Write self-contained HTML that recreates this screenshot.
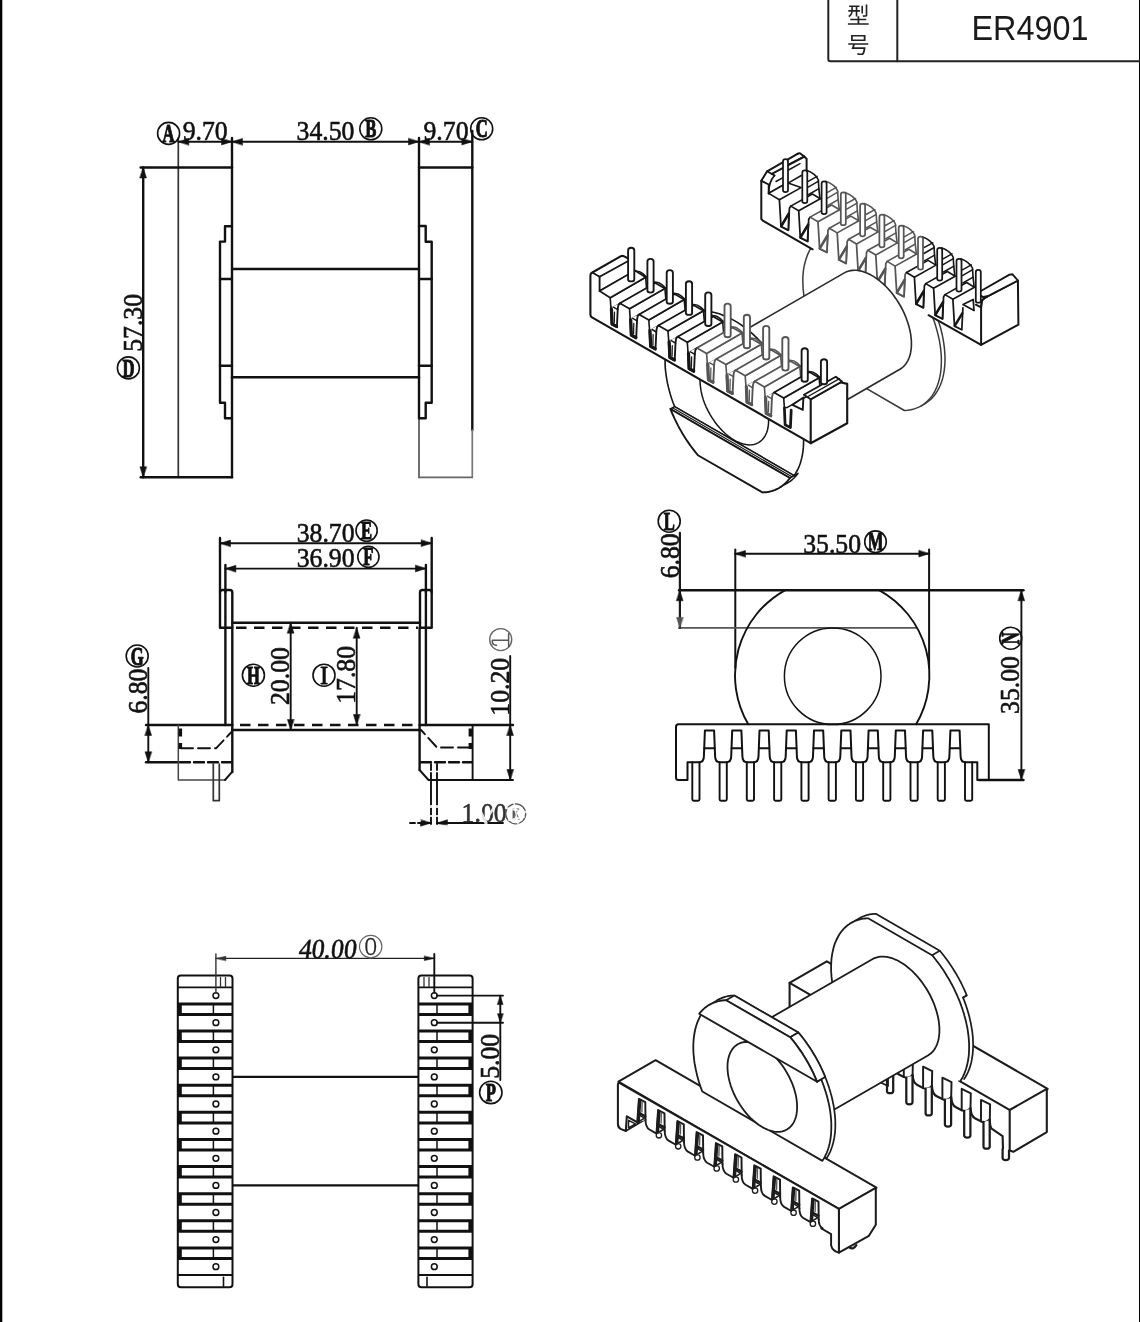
<!DOCTYPE html>
<html><head><meta charset="utf-8"><title>ER4901</title>
<style>
html,body{margin:0;padding:0;background:#fff;}
body{width:1140px;height:1322px;overflow:hidden;font-family:"Liberation Serif",serif;}
svg{display:block;filter:grayscale(1);}
</style></head><body>
<svg width="1140" height="1322" viewBox="0 0 1140 1322" stroke-linecap="round" stroke-linejoin="round">
<rect width="1140" height="1322" fill="#fff"/>
<g>
<rect x="0" y="0" width="2.3" height="1322" fill="#000"/>
<rect x="1139" y="0" width="1" height="1322" fill="#000"/>
<path d="M828.3,0 V59 Q828.3,61.3 830.6,61.3 H1140" stroke="#222" stroke-width="2" fill="none" />
<line x1="897.3" y1="0.0" x2="897.3" y2="61.3" stroke="#222" stroke-width="2" />
<path transform="translate(846.8,23.8) scale(0.0230,-0.0230)" d="M635 783V448H704V783ZM822 834V387C822 374 818 370 802 369C787 368 737 368 680 370C691 350 701 321 705 301C776 301 825 302 855 314C885 325 893 344 893 386V834ZM388 733V595H264V601V733ZM67 595V528H189C178 461 145 393 59 340C73 330 98 302 108 288C210 351 248 441 259 528H388V313H459V528H573V595H459V733H552V799H100V733H195V602V595ZM467 332V221H151V152H467V25H47V-45H952V25H544V152H848V221H544V332Z" fill="#222"/>
<path transform="translate(846.8,53.3) scale(0.0230,-0.0230)" d="M260 732H736V596H260ZM185 799V530H815V799ZM63 440V371H269C249 309 224 240 203 191H727C708 75 688 19 663 -1C651 -9 639 -10 615 -10C587 -10 514 -9 444 -2C458 -23 468 -52 470 -74C539 -78 605 -79 639 -77C678 -76 702 -70 726 -50C763 -18 788 57 812 225C814 236 816 259 816 259H315L352 371H933V440Z" fill="#222"/>
<text transform="translate(971.5,40.4) rotate(0) scale(1,1)" font-family="Liberation Sans, sans-serif" font-size="35" font-weight="normal" text-anchor="start" fill="#1a1a1a" textLength="117" lengthAdjust="spacingAndGlyphs" >ER4901</text>
<line x1="178.3" y1="138.0" x2="178.3" y2="477.3" stroke="#333" stroke-width="1.7" />
<line x1="232.0" y1="138.0" x2="232.0" y2="477.3" stroke="#111" stroke-width="2.4" />
<line x1="140.7" y1="167.5" x2="232.0" y2="167.5" stroke="#111" stroke-width="2.4" />
<line x1="140.7" y1="477.3" x2="232.0" y2="477.3" stroke="#111" stroke-width="2.4" />
<line x1="419.0" y1="138.0" x2="419.0" y2="418.0" stroke="#111" stroke-width="2.4" />
<line x1="419.0" y1="418.0" x2="419.0" y2="477.3" stroke="#555" stroke-width="1.7" />
<line x1="472.3" y1="131.0" x2="472.3" y2="430.0" stroke="#111" stroke-width="2.4" />
<line x1="472.3" y1="430.0" x2="472.3" y2="477.3" stroke="#777" stroke-width="1.7" />
<line x1="419.0" y1="167.5" x2="472.3" y2="167.5" stroke="#111" stroke-width="2.4" />
<line x1="419.0" y1="477.3" x2="472.3" y2="477.3" stroke="#666" stroke-width="1.7" />
<path d="M232,226.3 H225 V241.6 H220 V402.7 H225 V418.3 H232" stroke="#111" stroke-width="2.4" fill="none" />
<line x1="220.0" y1="279.0" x2="232.0" y2="279.0" stroke="#111" stroke-width="2.4" />
<line x1="220.0" y1="365.7" x2="232.0" y2="365.7" stroke="#111" stroke-width="2.4" />
<path d="M419,226 H425.7 V241.7 H431.7 V402.7 H425.7 V418.3 H419" stroke="#111" stroke-width="2.4" fill="none" />
<line x1="419.0" y1="279.0" x2="431.7" y2="279.0" stroke="#111" stroke-width="2.4" />
<line x1="419.0" y1="365.7" x2="431.7" y2="365.7" stroke="#111" stroke-width="2.4" />
<line x1="232.0" y1="269.0" x2="419.0" y2="269.0" stroke="#111" stroke-width="2.4" />
<line x1="232.0" y1="377.3" x2="419.0" y2="377.3" stroke="#111" stroke-width="2.4" />
<line x1="178.3" y1="141.7" x2="472.3" y2="141.7" stroke="#111" stroke-width="1.9" />
<path d="M178.3,141.7 L188.8,138.4 L188.8,145.0 Z" fill="#111" stroke="#111" stroke-width="0.5"/>
<path d="M232.0,141.7 L221.5,145.0 L221.5,138.4 Z" fill="#111" stroke="#111" stroke-width="0.5"/>
<path d="M232.0,141.7 L242.5,138.4 L242.5,145.0 Z" fill="#111" stroke="#111" stroke-width="0.5"/>
<path d="M419.0,141.7 L408.5,145.0 L408.5,138.4 Z" fill="#111" stroke="#111" stroke-width="0.5"/>
<path d="M419.0,141.7 L429.5,138.4 L429.5,145.0 Z" fill="#111" stroke="#111" stroke-width="0.5"/>
<path d="M472.3,141.7 L461.8,145.0 L461.8,138.4 Z" fill="#111" stroke="#111" stroke-width="0.5"/>
<line x1="143.2" y1="167.5" x2="143.2" y2="477.3" stroke="#111" stroke-width="2.4" />
<path d="M143.2,167.5 L146.5,178.0 L139.9,178.0 Z" fill="#111" stroke="#111" stroke-width="0.5"/>
<path d="M143.2,477.3 L139.9,466.8 L146.5,466.8 Z" fill="#111" stroke="#111" stroke-width="0.5"/>
<text transform="translate(182.7,140.4) rotate(0) scale(0.935,1)" font-family="Liberation Serif, serif" font-size="27.5" font-weight="normal" text-anchor="start" fill="#111" stroke="#111" stroke-width="0.6" >9.70</text>
<text transform="translate(296.6,140.4) rotate(0) scale(0.935,1)" font-family="Liberation Serif, serif" font-size="27.5" font-weight="normal" text-anchor="start" fill="#111" stroke="#111" stroke-width="0.6" >34.50</text>
<text transform="translate(423.5,140.4) rotate(0) scale(0.935,1)" font-family="Liberation Serif, serif" font-size="27.5" font-weight="normal" text-anchor="start" fill="#111" stroke="#111" stroke-width="0.6" >9.70</text>
<circle cx="168.6" cy="133.4" r="11.0" fill="none" stroke="#111" stroke-width="1.6"/>
<text transform="translate(168.6,133.4) rotate(0) scale(0.64,1)" y="8.6" font-family="Liberation Serif, serif" font-weight="bold" font-size="26" text-anchor="middle" fill="#111" stroke="#111" stroke-width="1.1">A</text>
<circle cx="370.8" cy="128.8" r="11.0" fill="none" stroke="#111" stroke-width="1.6"/>
<text transform="translate(370.8,128.8) rotate(0) scale(0.64,1)" y="8.6" font-family="Liberation Serif, serif" font-weight="bold" font-size="26" text-anchor="middle" fill="#111" stroke="#111" stroke-width="1.1">B</text>
<circle cx="481.7" cy="128.8" r="11.0" fill="none" stroke="#111" stroke-width="1.6"/>
<text transform="translate(481.7,128.8) rotate(0) scale(0.64,1)" y="8.6" font-family="Liberation Serif, serif" font-weight="bold" font-size="26" text-anchor="middle" fill="#111" stroke="#111" stroke-width="1.1">C</text>
<text transform="translate(142.2,351.8) rotate(-90) scale(0.935,1)" font-family="Liberation Serif, serif" font-size="27.5" font-weight="normal" text-anchor="start" fill="#111" stroke="#111" stroke-width="0.6" >57.30</text>
<circle cx="128.4" cy="367.9" r="11.0" fill="none" stroke="#111" stroke-width="1.6"/>
<text transform="translate(128.4,367.9) rotate(0) scale(0.64,1)" y="8.6" font-family="Liberation Serif, serif" font-weight="bold" font-size="26" text-anchor="middle" fill="#111" stroke="#111" stroke-width="1.1">D</text>
<line x1="220.0" y1="543.3" x2="431.7" y2="543.3" stroke="#111" stroke-width="1.9" />
<path d="M220.0,543.3 L230.5,540.0 L230.5,546.6 Z" fill="#111" stroke="#111" stroke-width="0.5"/>
<path d="M431.7,543.3 L421.2,546.6 L421.2,540.0 Z" fill="#111" stroke="#111" stroke-width="0.5"/>
<line x1="225.4" y1="568.6" x2="425.9" y2="568.6" stroke="#111" stroke-width="1.9" />
<path d="M225.4,568.6 L235.9,565.3 L235.9,571.9 Z" fill="#111" stroke="#111" stroke-width="0.5"/>
<path d="M425.9,568.6 L415.4,571.9 L415.4,565.3 Z" fill="#111" stroke="#111" stroke-width="0.5"/>
<line x1="220.0" y1="538.0" x2="220.0" y2="592.0" stroke="#111" stroke-width="2.4" />
<line x1="431.7" y1="538.0" x2="431.7" y2="592.0" stroke="#111" stroke-width="2.4" />
<line x1="225.4" y1="565.0" x2="225.4" y2="592.0" stroke="#111" stroke-width="2.4" />
<line x1="425.9" y1="565.0" x2="425.9" y2="592.0" stroke="#111" stroke-width="2.4" />
<text transform="translate(296.7,542.4) rotate(0) scale(0.935,1)" font-family="Liberation Serif, serif" font-size="27.5" font-weight="normal" text-anchor="start" fill="#111" stroke="#111" stroke-width="0.6" >38.70</text>
<circle cx="366.6" cy="530.6" r="10.6" fill="none" stroke="#111" stroke-width="1.6"/>
<text transform="translate(366.6,530.6) rotate(0) scale(0.64,1)" y="8.6" font-family="Liberation Serif, serif" font-weight="bold" font-size="26" text-anchor="middle" fill="#111" stroke="#111" stroke-width="1.1">E</text>
<text transform="translate(296.7,567.4) rotate(0) scale(0.935,1)" font-family="Liberation Serif, serif" font-size="27.5" font-weight="normal" text-anchor="start" fill="#111" stroke="#111" stroke-width="0.6" >36.90</text>
<circle cx="368.4" cy="556.8" r="10.6" fill="none" stroke="#111" stroke-width="1.6"/>
<text transform="translate(368.4,556.8) rotate(0) scale(0.64,1)" y="8.6" font-family="Liberation Serif, serif" font-weight="bold" font-size="26" text-anchor="middle" fill="#111" stroke="#111" stroke-width="1.1">F</text>
<path d="M220,627.7 V592.5 Q220,590 222.5,590 H229.8 Q232.3,590 232.3,592.5 V627.7 Z" stroke="#111" stroke-width="2.4" fill="none" />
<path d="M420,627.7 V592.5 Q420,590 422.5,590 H429.2 Q431.7,590 431.7,592.5 V627.7 Z" stroke="#111" stroke-width="2.4" fill="none" />
<line x1="225.4" y1="590.0" x2="225.4" y2="725.0" stroke="#111" stroke-width="2.4" />
<line x1="232.3" y1="627.7" x2="232.3" y2="772.0" stroke="#111" stroke-width="2.4" />
<line x1="425.9" y1="590.0" x2="425.9" y2="725.0" stroke="#111" stroke-width="2.4" />
<line x1="419.6" y1="627.7" x2="419.6" y2="770.0" stroke="#111" stroke-width="2.4" />
<line x1="232.3" y1="622.7" x2="420.0" y2="622.7" stroke="#111" stroke-width="2.4" />
<line x1="236.0" y1="627.7" x2="418.0" y2="627.7" stroke="#111" stroke-width="2.4" stroke-dasharray="10.5,7.5" stroke-linecap="butt"/>
<line x1="240.0" y1="725.0" x2="416.0" y2="725.0" stroke="#111" stroke-width="2.4" stroke-dasharray="10.5,7.5" stroke-linecap="butt"/>
<line x1="232.3" y1="730.0" x2="419.6" y2="730.0" stroke="#111" stroke-width="2.4" />
<line x1="290.7" y1="622.7" x2="290.7" y2="730.0" stroke="#111" stroke-width="1.9" />
<path d="M290.7,622.7 L294.0,633.2 L287.4,633.2 Z" fill="#111" stroke="#111" stroke-width="0.5"/>
<path d="M290.7,730.0 L287.4,719.5 L294.0,719.5 Z" fill="#111" stroke="#111" stroke-width="0.5"/>
<line x1="356.7" y1="627.7" x2="356.7" y2="725.0" stroke="#111" stroke-width="1.9" />
<path d="M356.7,627.7 L360.0,638.2 L353.4,638.2 Z" fill="#111" stroke="#111" stroke-width="0.5"/>
<path d="M356.7,725.0 L353.4,714.5 L360.0,714.5 Z" fill="#111" stroke="#111" stroke-width="0.5"/>
<text transform="translate(288.8,705.0) rotate(-90) scale(0.935,1)" font-family="Liberation Serif, serif" font-size="27.5" font-weight="normal" text-anchor="start" fill="#111" stroke="#111" stroke-width="0.6" >20.00</text>
<circle cx="253.4" cy="675.2" r="11.0" fill="none" stroke="#111" stroke-width="1.6"/>
<text transform="translate(253.4,675.2) rotate(0) scale(0.64,1)" y="8.6" font-family="Liberation Serif, serif" font-weight="bold" font-size="26" text-anchor="middle" fill="#111" stroke="#111" stroke-width="1.1">H</text>
<text transform="translate(355.2,703.8) rotate(-90) scale(0.935,1)" font-family="Liberation Serif, serif" font-size="27.5" font-weight="normal" text-anchor="start" fill="#111" stroke="#111" stroke-width="0.6" >17.80</text>
<circle cx="324.0" cy="675.2" r="11.0" fill="none" stroke="#111" stroke-width="1.6"/>
<text transform="translate(324.0,675.2) rotate(0) scale(0.95,1)" y="8.6" font-family="Liberation Serif, serif" font-weight="normal" font-size="26" text-anchor="middle" fill="#111" stroke="#111" stroke-width="0.8">I</text>
<line x1="146.0" y1="725.0" x2="232.3" y2="725.0" stroke="#111" stroke-width="2.4" />
<line x1="148.3" y1="668.0" x2="148.3" y2="762.3" stroke="#111" stroke-width="1.9" />
<path d="M148.3,725.0 L151.6,735.5 L145.0,735.5 Z" fill="#111" stroke="#111" stroke-width="0.5"/>
<path d="M148.3,762.3 L145.0,751.8 L151.6,751.8 Z" fill="#111" stroke="#111" stroke-width="0.5"/>
<line x1="146.0" y1="762.3" x2="178.3" y2="762.3" stroke="#111" stroke-width="2.4" />
<line x1="180.0" y1="762.3" x2="232.0" y2="762.3" stroke="#111" stroke-width="2.4" stroke-dasharray="10,4"/>
<path d="M178.3,725 V780 H225" stroke="#444" stroke-width="1.5" fill="none" />
<path d="M225,780 L232.3,771.7" stroke="#111" stroke-width="1.9" fill="none" />
<line x1="180.3" y1="728.5" x2="180.3" y2="749.0" stroke="#111" stroke-width="3.6" stroke-dasharray="8,6.5" stroke-linecap="butt"/>
<path d="M181,748.3 H216 L231.5,732" stroke="#111" stroke-width="1.9" fill="none" stroke-dasharray="12,5"/>
<path d="M213.3,764 V800.7 H219.3 V764" stroke="#333" stroke-width="1.7" fill="none" />
<text transform="translate(146.8,713.6) rotate(-90) scale(0.935,1)" font-family="Liberation Serif, serif" font-size="27.5" font-weight="normal" text-anchor="start" fill="#111" stroke="#111" stroke-width="0.6" >6.80</text>
<circle cx="137.2" cy="656.0" r="11.0" fill="none" stroke="#111" stroke-width="1.6"/>
<text transform="translate(137.2,656.0) rotate(0) scale(0.64,1)" y="8.6" font-family="Liberation Serif, serif" font-weight="bold" font-size="26" text-anchor="middle" fill="#111" stroke="#111" stroke-width="1.1">G</text>
<line x1="419.6" y1="725.0" x2="513.0" y2="725.0" stroke="#111" stroke-width="2.4" />
<line x1="510.2" y1="656.0" x2="510.2" y2="780.0" stroke="#111" stroke-width="1.9" />
<path d="M510.2,725.0 L513.5,735.5 L506.9,735.5 Z" fill="#111" stroke="#111" stroke-width="0.5"/>
<path d="M510.2,780.0 L506.9,769.5 L513.5,769.5 Z" fill="#111" stroke="#111" stroke-width="0.5"/>
<path d="M419.6,770 L428.5,780 H513" stroke="#111" stroke-width="1.9" fill="none" />
<line x1="472.6" y1="725.0" x2="472.6" y2="780.0" stroke="#111" stroke-width="1.9" />
<line x1="470.4" y1="728.5" x2="470.4" y2="749.0" stroke="#111" stroke-width="3.6" stroke-dasharray="8,6.5" stroke-linecap="butt"/>
<path d="M470,747.5 H437 L421,730" stroke="#111" stroke-width="1.9" fill="none" stroke-dasharray="12,5"/>
<line x1="421.0" y1="762.3" x2="472.0" y2="762.3" stroke="#111" stroke-width="2.4" stroke-dasharray="10,4"/>
<path d="M431,764 V780" stroke="#111" stroke-width="1.9" fill="none" stroke-dasharray="6,3"/>
<path d="M437,764 V780" stroke="#111" stroke-width="1.9" fill="none" stroke-dasharray="6,3"/>
<path d="M431,780 V824 M437,780 V824" stroke="#111" stroke-width="1.9" fill="none" />
<line x1="410.0" y1="823.0" x2="431.0" y2="823.0" stroke="#111" stroke-width="1.9" stroke-dasharray="5,3"/>
<path d="M431.0,823.0 L420.5,826.3 L420.5,819.7 Z" fill="#111" stroke="#111" stroke-width="0.5"/>
<line x1="437.0" y1="823.0" x2="503.0" y2="823.0" stroke="#111" stroke-width="1.9" />
<path d="M437.0,823.0 L447.5,819.7 L447.5,826.3 Z" fill="#111" stroke="#111" stroke-width="0.5"/>
<text transform="translate(461.6,821.8) rotate(0) scale(0.935,1)" font-family="Liberation Serif, serif" font-size="27.5" font-weight="normal" text-anchor="start" fill="#333" stroke="#333" stroke-width="0.6" >1.00</text>
<circle cx="515.7" cy="813.8" r="10" fill="none" stroke="#555" stroke-width="1.3"/>
<text transform="translate(515.7,813.8) rotate(0) scale(0.64,1)" y="5.0" font-family="Liberation Serif, serif" font-weight="bold" font-size="15" text-anchor="middle" fill="#555" stroke="#555" stroke-width="1.1">K</text>
<text transform="translate(508.9,715.7) rotate(-90) scale(0.935,1)" font-family="Liberation Serif, serif" font-size="27.5" font-weight="normal" text-anchor="start" fill="#111" stroke="#111" stroke-width="0.6" >10.20</text>
<circle cx="500.7" cy="639.6" r="11" fill="none" stroke="#666" stroke-width="1.4"/>
<path d="M492.3,640.2 H508.6 M508.6,633.8 V646.8 M492.3,640.2 Q492,645.5 496.5,645.2" stroke="#555" stroke-width="1.5" fill="none" />
<line x1="477" y1="805" x2="486" y2="823" stroke="#fff" stroke-opacity="0.85" stroke-width="3.2"/>
<line x1="489" y1="815" x2="497" y2="803" stroke="#fff" stroke-opacity="0.85" stroke-width="2.6"/>
<line x1="428" y1="806.5" x2="440" y2="806.5" stroke="#fff" stroke-opacity="0.85" stroke-width="3"/>
<line x1="428" y1="816" x2="440" y2="816" stroke="#fff" stroke-opacity="0.85" stroke-width="2"/>
<line x1="506" y1="808" x2="526" y2="812" stroke="#fff" stroke-opacity="0.85" stroke-width="2.2"/>
<line x1="509" y1="820" x2="524" y2="817" stroke="#fff" stroke-opacity="0.85" stroke-width="2"/>
<line x1="514" y1="803" x2="518" y2="824" stroke="#fff" stroke-opacity="0.85" stroke-width="1.6"/>
<line x1="440" y1="826" x2="458" y2="826" stroke="#fff" stroke-opacity="0.85" stroke-width="2.5"/>
<line x1="412" y1="820.5" x2="420" y2="820.5" stroke="#fff" stroke-opacity="0.85" stroke-width="2.5"/>
<line x1="735.0" y1="553.7" x2="929.3" y2="553.7" stroke="#111" stroke-width="1.9" />
<path d="M735.0,553.7 L745.5,550.4 L745.5,557.0 Z" fill="#111" stroke="#111" stroke-width="0.5"/>
<path d="M929.3,553.7 L918.8,557.0 L918.8,550.4 Z" fill="#111" stroke="#111" stroke-width="0.5"/>
<line x1="735.3" y1="549.5" x2="735.3" y2="668.0" stroke="#111" stroke-width="2.0" />
<line x1="929.1" y1="549.5" x2="929.1" y2="668.0" stroke="#111" stroke-width="2.0" />
<text transform="translate(803.2,552.8) rotate(0) scale(0.935,1)" font-family="Liberation Serif, serif" font-size="27.5" font-weight="normal" text-anchor="start" fill="#111" stroke="#111" stroke-width="0.6" >35.50</text>
<circle cx="875.5" cy="541.7" r="10.8" fill="none" stroke="#111" stroke-width="1.6"/>
<text transform="translate(875.5,541.7) rotate(0) scale(0.64,1)" y="8.6" font-family="Liberation Serif, serif" font-weight="bold" font-size="26" text-anchor="middle" fill="#111" stroke="#111" stroke-width="1.1">M</text>
<line x1="679.0" y1="590.3" x2="1023.5" y2="590.3" stroke="#111" stroke-width="2.4" />
<line x1="679.0" y1="627.9" x2="916.0" y2="627.9" stroke="#555" stroke-width="1.8" />
<line x1="679.9" y1="532.8" x2="679.9" y2="627.9" stroke="#1a1a1a" stroke-width="2.2" />
<path d="M679.8,590.3 L683.1,600.8 L676.5,600.8 Z" fill="#111" stroke="#111" stroke-width="0.5"/>
<path d="M679.8,627.9 L676.5,617.4 L683.1,617.4 Z" fill="#555" stroke="#555" stroke-width="0.5"/>
<text transform="translate(678.8,578.3) rotate(-90) scale(0.935,1)" font-family="Liberation Serif, serif" font-size="27.5" font-weight="normal" text-anchor="start" fill="#111" stroke="#111" stroke-width="0.6" >6.80</text>
<circle cx="669.2" cy="521.2" r="11.0" fill="none" stroke="#111" stroke-width="1.6"/>
<text transform="translate(669.2,521.2) rotate(0) scale(0.64,1)" y="8.6" font-family="Liberation Serif, serif" font-weight="bold" font-size="26" text-anchor="middle" fill="#111" stroke="#111" stroke-width="1.1">L</text>
<line x1="1021.4" y1="590.3" x2="1021.4" y2="780.0" stroke="#111" stroke-width="1.9" />
<path d="M1021.4,590.3 L1024.7,600.8 L1018.1,600.8 Z" fill="#111" stroke="#111" stroke-width="0.5"/>
<path d="M1021.4,780.0 L1018.1,769.5 L1024.7,769.5 Z" fill="#111" stroke="#111" stroke-width="0.5"/>
<line x1="979.0" y1="780.0" x2="1023.5" y2="780.0" stroke="#111" stroke-width="2.4" />
<text transform="translate(1018.9,713.9) rotate(-90) scale(0.935,1)" font-family="Liberation Serif, serif" font-size="27.5" font-weight="normal" text-anchor="start" fill="#111" stroke="#111" stroke-width="0.6" >35.00</text>
<circle cx="1010.7" cy="638.2" r="11.0" fill="none" stroke="#111" stroke-width="1.6"/>
<text transform="translate(1010.7,638.2) rotate(-90) scale(0.64,1)" y="8.6" font-family="Liberation Serif, serif" font-weight="bold" font-size="26" text-anchor="middle" fill="#111" stroke="#111" stroke-width="1.1">N</text>
<path d="M784.9,590.3 A97.2,97.2 0 0 0 748.3,724.3" stroke="#111" stroke-width="1.9" fill="none" />
<path d="M879.5,590.3 A97.2,97.2 0 0 1 916.1,724.3" stroke="#111" stroke-width="1.9" fill="none" />
<circle cx="832.7" cy="676.2" r="48.3" fill="none" stroke="#111" stroke-width="1.5"/>
<path d="M687.5,780 H678.5 Q676,780 676,777.5 V726.8 Q676,724.3 678.5,724.3 H988.8 V780 H977.3 V762.2 H965.6 Q960.6,762.2 960.6,756.2 L959.6,730.5 H950.4 L949.4,756.2 Q949.4,762.2 944.4,762.2 H938.3 Q933.3,762.2 933.3,756.2 L932.3,730.5 H923.1 L922.1,756.2 Q922.1,762.2 917.1,762.2 H911.0 Q906.0,762.2 906.0,756.2 L905.0,730.5 H895.8 L894.8,756.2 Q894.8,762.2 889.8,762.2 H883.8 Q878.8,762.2 878.8,756.2 L877.8,730.5 H868.6 L867.6,756.2 Q867.6,762.2 862.6,762.2 H856.5 Q851.5,762.2 851.5,756.2 L850.5,730.5 H841.3 L840.3,756.2 Q840.3,762.2 835.3,762.2 H829.2 Q824.2,762.2 824.2,756.2 L823.2,730.5 H814.0 L813.0,756.2 Q813.0,762.2 808.0,762.2 H801.9 Q796.9,762.2 796.9,756.2 L795.9,730.5 H786.7 L785.7,756.2 Q785.7,762.2 780.7,762.2 H774.7 Q769.7,762.2 769.7,756.2 L768.7,730.5 H759.5 L758.5,756.2 Q758.5,762.2 753.5,762.2 H747.4 Q742.4,762.2 742.4,756.2 L741.4,730.5 H732.2 L731.2,756.2 Q731.2,762.2 726.2,762.2 H720.1 Q715.1,762.2 715.1,756.2 L714.1,730.5 H704.9 L703.9,756.2 Q703.9,762.2 698.9,762.2 H687.5 Z" stroke="#111" stroke-width="2.0" fill="none" stroke-linejoin="round"/>
<line x1="704.3" y1="748.2" x2="714.7" y2="748.2" stroke="#111" stroke-width="1.9" />
<line x1="731.6" y1="748.2" x2="742.0" y2="748.2" stroke="#111" stroke-width="1.9" />
<line x1="758.9" y1="748.2" x2="769.3" y2="748.2" stroke="#111" stroke-width="1.9" />
<line x1="786.1" y1="748.2" x2="796.5" y2="748.2" stroke="#111" stroke-width="1.9" />
<line x1="813.4" y1="748.2" x2="823.8" y2="748.2" stroke="#111" stroke-width="1.9" />
<line x1="840.7" y1="748.2" x2="851.1" y2="748.2" stroke="#111" stroke-width="1.9" />
<line x1="868.0" y1="748.2" x2="878.4" y2="748.2" stroke="#111" stroke-width="1.9" />
<line x1="895.2" y1="748.2" x2="905.6" y2="748.2" stroke="#111" stroke-width="1.9" />
<line x1="922.5" y1="748.2" x2="932.9" y2="748.2" stroke="#111" stroke-width="1.9" />
<line x1="949.8" y1="748.2" x2="960.2" y2="748.2" stroke="#111" stroke-width="1.9" />
<path d="M692.3,762.2 V799.3 Q692.3,800.8 693.8,800.8 H698.0 Q699.5,800.8 699.5,799.3 V762.2" stroke="#111" stroke-width="1.9" fill="none" />
<path d="M719.6,762.2 V799.3 Q719.6,800.8 721.1,800.8 H725.3 Q726.8,800.8 726.8,799.3 V762.2" stroke="#111" stroke-width="1.9" fill="none" />
<path d="M746.8,762.2 V799.3 Q746.8,800.8 748.3,800.8 H752.5 Q754.0,800.8 754.0,799.3 V762.2" stroke="#111" stroke-width="1.9" fill="none" />
<path d="M774.1,762.2 V799.3 Q774.1,800.8 775.6,800.8 H779.8 Q781.3,800.8 781.3,799.3 V762.2" stroke="#111" stroke-width="1.9" fill="none" />
<path d="M801.4,762.2 V799.3 Q801.4,800.8 802.9,800.8 H807.1 Q808.6,800.8 808.6,799.3 V762.2" stroke="#111" stroke-width="1.9" fill="none" />
<path d="M828.6,762.2 V799.3 Q828.6,800.8 830.1,800.8 H834.4 Q835.9,800.8 835.9,799.3 V762.2" stroke="#111" stroke-width="1.9" fill="none" />
<path d="M855.9,762.2 V799.3 Q855.9,800.8 857.4,800.8 H861.6 Q863.1,800.8 863.1,799.3 V762.2" stroke="#111" stroke-width="1.9" fill="none" />
<path d="M883.2,762.2 V799.3 Q883.2,800.8 884.7,800.8 H888.9 Q890.4,800.8 890.4,799.3 V762.2" stroke="#111" stroke-width="1.9" fill="none" />
<path d="M910.5,762.2 V799.3 Q910.5,800.8 912.0,800.8 H916.2 Q917.7,800.8 917.7,799.3 V762.2" stroke="#111" stroke-width="1.9" fill="none" />
<path d="M937.7,762.2 V799.3 Q937.7,800.8 939.2,800.8 H943.4 Q944.9,800.8 944.9,799.3 V762.2" stroke="#111" stroke-width="1.9" fill="none" />
<path d="M965.0,762.2 V799.3 Q965.0,800.8 966.5,800.8 H970.7 Q972.2,800.8 972.2,799.3 V762.2" stroke="#111" stroke-width="1.9" fill="none" />
<path d="M180.8,975.6 H229.5 Q232.5,975.6 232.5,978.6 V1284.3 Q232.5,1287.3 229.5,1287.3 H180.8 Q177.8,1287.3 177.8,1284.3 V978.6 Q177.8,975.6 180.8,975.6 Z" stroke="#111" stroke-width="2.0" fill="none" />
<line x1="177.8" y1="987.3" x2="232.5" y2="987.3" stroke="#111" stroke-width="1.8" stroke-linecap="butt"/>
<line x1="177.8" y1="1003.9" x2="232.5" y2="1003.9" stroke="#111" stroke-width="3.0" stroke-linecap="butt"/>
<circle cx="215.9" cy="995.6" r="2.9" fill="none" stroke="#111" stroke-width="1.5"/>
<line x1="213.4" y1="1003.9" x2="213.4" y2="1014.4" stroke="#111" stroke-width="1.5" stroke-linecap="butt"/>
<rect x="177.8" y="1003.9" width="4" height="10.5" fill="#111"/>
<line x1="177.8" y1="1014.4" x2="232.5" y2="1014.4" stroke="#111" stroke-width="3.0" stroke-linecap="butt"/>
<line x1="177.8" y1="1031.0" x2="232.5" y2="1031.0" stroke="#111" stroke-width="3.0" stroke-linecap="butt"/>
<circle cx="215.9" cy="1022.7" r="2.9" fill="none" stroke="#111" stroke-width="1.5"/>
<line x1="213.4" y1="1031.0" x2="213.4" y2="1041.5" stroke="#111" stroke-width="1.5" stroke-linecap="butt"/>
<rect x="177.8" y="1031.0" width="4" height="10.5" fill="#111"/>
<line x1="177.8" y1="1041.5" x2="232.5" y2="1041.5" stroke="#111" stroke-width="3.0" stroke-linecap="butt"/>
<line x1="177.8" y1="1058.1" x2="232.5" y2="1058.1" stroke="#111" stroke-width="3.0" stroke-linecap="butt"/>
<circle cx="215.9" cy="1049.8" r="2.9" fill="none" stroke="#111" stroke-width="1.5"/>
<line x1="213.4" y1="1058.1" x2="213.4" y2="1068.6" stroke="#111" stroke-width="1.5" stroke-linecap="butt"/>
<rect x="177.8" y="1058.1" width="4" height="10.5" fill="#111"/>
<line x1="177.8" y1="1068.6" x2="232.5" y2="1068.6" stroke="#111" stroke-width="3.0" stroke-linecap="butt"/>
<line x1="177.8" y1="1085.2" x2="232.5" y2="1085.2" stroke="#111" stroke-width="3.0" stroke-linecap="butt"/>
<circle cx="215.9" cy="1076.9" r="2.9" fill="none" stroke="#111" stroke-width="1.5"/>
<line x1="213.4" y1="1085.2" x2="213.4" y2="1095.7" stroke="#111" stroke-width="1.5" stroke-linecap="butt"/>
<rect x="177.8" y="1085.2" width="4" height="10.5" fill="#111"/>
<line x1="177.8" y1="1095.7" x2="232.5" y2="1095.7" stroke="#111" stroke-width="3.0" stroke-linecap="butt"/>
<line x1="177.8" y1="1112.3" x2="232.5" y2="1112.3" stroke="#111" stroke-width="3.0" stroke-linecap="butt"/>
<circle cx="215.9" cy="1104.0" r="2.9" fill="none" stroke="#111" stroke-width="1.5"/>
<line x1="213.4" y1="1112.3" x2="213.4" y2="1122.8" stroke="#111" stroke-width="1.5" stroke-linecap="butt"/>
<rect x="177.8" y="1112.3" width="4" height="10.5" fill="#111"/>
<line x1="177.8" y1="1122.9" x2="232.5" y2="1122.9" stroke="#111" stroke-width="3.0" stroke-linecap="butt"/>
<line x1="177.8" y1="1139.5" x2="232.5" y2="1139.5" stroke="#111" stroke-width="3.0" stroke-linecap="butt"/>
<circle cx="215.9" cy="1131.2" r="2.9" fill="none" stroke="#111" stroke-width="1.5"/>
<line x1="213.4" y1="1139.5" x2="213.4" y2="1150.0" stroke="#111" stroke-width="1.5" stroke-linecap="butt"/>
<rect x="177.8" y="1139.5" width="4" height="10.5" fill="#111"/>
<line x1="177.8" y1="1150.0" x2="232.5" y2="1150.0" stroke="#111" stroke-width="3.0" stroke-linecap="butt"/>
<line x1="177.8" y1="1166.6" x2="232.5" y2="1166.6" stroke="#111" stroke-width="3.0" stroke-linecap="butt"/>
<circle cx="215.9" cy="1158.3" r="2.9" fill="none" stroke="#111" stroke-width="1.5"/>
<line x1="213.4" y1="1166.6" x2="213.4" y2="1177.1" stroke="#111" stroke-width="1.5" stroke-linecap="butt"/>
<rect x="177.8" y="1166.6" width="4" height="10.5" fill="#111"/>
<line x1="177.8" y1="1177.1" x2="232.5" y2="1177.1" stroke="#111" stroke-width="3.0" stroke-linecap="butt"/>
<line x1="177.8" y1="1193.7" x2="232.5" y2="1193.7" stroke="#111" stroke-width="3.0" stroke-linecap="butt"/>
<circle cx="215.9" cy="1185.4" r="2.9" fill="none" stroke="#111" stroke-width="1.5"/>
<line x1="213.4" y1="1193.7" x2="213.4" y2="1204.2" stroke="#111" stroke-width="1.5" stroke-linecap="butt"/>
<rect x="177.8" y="1193.7" width="4" height="10.5" fill="#111"/>
<line x1="177.8" y1="1204.2" x2="232.5" y2="1204.2" stroke="#111" stroke-width="3.0" stroke-linecap="butt"/>
<line x1="177.8" y1="1220.8" x2="232.5" y2="1220.8" stroke="#111" stroke-width="3.0" stroke-linecap="butt"/>
<circle cx="215.9" cy="1212.5" r="2.9" fill="none" stroke="#111" stroke-width="1.5"/>
<line x1="213.4" y1="1220.8" x2="213.4" y2="1231.3" stroke="#111" stroke-width="1.5" stroke-linecap="butt"/>
<rect x="177.8" y="1220.8" width="4" height="10.5" fill="#111"/>
<line x1="177.8" y1="1231.3" x2="232.5" y2="1231.3" stroke="#111" stroke-width="3.0" stroke-linecap="butt"/>
<line x1="177.8" y1="1247.9" x2="232.5" y2="1247.9" stroke="#111" stroke-width="3.0" stroke-linecap="butt"/>
<circle cx="215.9" cy="1239.6" r="2.9" fill="none" stroke="#111" stroke-width="1.5"/>
<line x1="213.4" y1="1247.9" x2="213.4" y2="1258.4" stroke="#111" stroke-width="1.5" stroke-linecap="butt"/>
<rect x="177.8" y="1247.9" width="4" height="10.5" fill="#111"/>
<line x1="177.8" y1="1258.4" x2="232.5" y2="1258.4" stroke="#111" stroke-width="3.0" stroke-linecap="butt"/>
<line x1="177.8" y1="1275.0" x2="232.5" y2="1275.0" stroke="#111" stroke-width="1.8" stroke-linecap="butt"/>
<circle cx="215.9" cy="1266.7" r="2.9" fill="none" stroke="#111" stroke-width="1.5"/>
<line x1="220.5" y1="977.6" x2="220.5" y2="986.6" stroke="#333" stroke-width="1.3" />
<line x1="225.5" y1="977.6" x2="225.5" y2="986.6" stroke="#333" stroke-width="1.3" />
<line x1="223.5" y1="1277.3" x2="223.5" y2="1286.3" stroke="#111" stroke-width="1.6" />
<path d="M421.4,975.6 H469.6 Q472.6,975.6 472.6,978.6 V1284.3 Q472.6,1287.3 469.6,1287.3 H421.4 Q418.4,1287.3 418.4,1284.3 V978.6 Q418.4,975.6 421.4,975.6 Z" stroke="#111" stroke-width="2.0" fill="none" />
<line x1="418.4" y1="987.3" x2="472.6" y2="987.3" stroke="#111" stroke-width="1.8" stroke-linecap="butt"/>
<line x1="418.4" y1="1003.9" x2="472.6" y2="1003.9" stroke="#111" stroke-width="3.0" stroke-linecap="butt"/>
<circle cx="434.3" cy="995.6" r="2.9" fill="none" stroke="#111" stroke-width="1.5"/>
<line x1="437.0" y1="1003.9" x2="437.0" y2="1014.4" stroke="#111" stroke-width="1.5" stroke-linecap="butt"/>
<rect x="468.40000000000003" y="1003.9" width="4.2" height="10.5" fill="#111"/>
<line x1="418.4" y1="1014.4" x2="472.6" y2="1014.4" stroke="#111" stroke-width="3.0" stroke-linecap="butt"/>
<line x1="418.4" y1="1031.0" x2="472.6" y2="1031.0" stroke="#111" stroke-width="3.0" stroke-linecap="butt"/>
<circle cx="434.3" cy="1022.7" r="2.9" fill="none" stroke="#111" stroke-width="1.5"/>
<line x1="437.0" y1="1031.0" x2="437.0" y2="1041.5" stroke="#111" stroke-width="1.5" stroke-linecap="butt"/>
<rect x="468.40000000000003" y="1031.0" width="4.2" height="10.5" fill="#111"/>
<line x1="418.4" y1="1041.5" x2="472.6" y2="1041.5" stroke="#111" stroke-width="3.0" stroke-linecap="butt"/>
<line x1="418.4" y1="1058.1" x2="472.6" y2="1058.1" stroke="#111" stroke-width="3.0" stroke-linecap="butt"/>
<circle cx="434.3" cy="1049.8" r="2.9" fill="none" stroke="#111" stroke-width="1.5"/>
<line x1="437.0" y1="1058.1" x2="437.0" y2="1068.6" stroke="#111" stroke-width="1.5" stroke-linecap="butt"/>
<rect x="468.40000000000003" y="1058.1" width="4.2" height="10.5" fill="#111"/>
<line x1="418.4" y1="1068.6" x2="472.6" y2="1068.6" stroke="#111" stroke-width="3.0" stroke-linecap="butt"/>
<line x1="418.4" y1="1085.2" x2="472.6" y2="1085.2" stroke="#111" stroke-width="3.0" stroke-linecap="butt"/>
<circle cx="434.3" cy="1076.9" r="2.9" fill="none" stroke="#111" stroke-width="1.5"/>
<line x1="437.0" y1="1085.2" x2="437.0" y2="1095.7" stroke="#111" stroke-width="1.5" stroke-linecap="butt"/>
<rect x="468.40000000000003" y="1085.2" width="4.2" height="10.5" fill="#111"/>
<line x1="418.4" y1="1095.7" x2="472.6" y2="1095.7" stroke="#111" stroke-width="3.0" stroke-linecap="butt"/>
<line x1="418.4" y1="1112.3" x2="472.6" y2="1112.3" stroke="#111" stroke-width="3.0" stroke-linecap="butt"/>
<circle cx="434.3" cy="1104.0" r="2.9" fill="none" stroke="#111" stroke-width="1.5"/>
<line x1="437.0" y1="1112.3" x2="437.0" y2="1122.8" stroke="#111" stroke-width="1.5" stroke-linecap="butt"/>
<rect x="468.40000000000003" y="1112.3" width="4.2" height="10.5" fill="#111"/>
<line x1="418.4" y1="1122.9" x2="472.6" y2="1122.9" stroke="#111" stroke-width="3.0" stroke-linecap="butt"/>
<line x1="418.4" y1="1139.5" x2="472.6" y2="1139.5" stroke="#111" stroke-width="3.0" stroke-linecap="butt"/>
<circle cx="434.3" cy="1131.2" r="2.9" fill="none" stroke="#111" stroke-width="1.5"/>
<line x1="437.0" y1="1139.5" x2="437.0" y2="1150.0" stroke="#111" stroke-width="1.5" stroke-linecap="butt"/>
<rect x="468.40000000000003" y="1139.5" width="4.2" height="10.5" fill="#111"/>
<line x1="418.4" y1="1150.0" x2="472.6" y2="1150.0" stroke="#111" stroke-width="3.0" stroke-linecap="butt"/>
<line x1="418.4" y1="1166.6" x2="472.6" y2="1166.6" stroke="#111" stroke-width="3.0" stroke-linecap="butt"/>
<circle cx="434.3" cy="1158.3" r="2.9" fill="none" stroke="#111" stroke-width="1.5"/>
<line x1="437.0" y1="1166.6" x2="437.0" y2="1177.1" stroke="#111" stroke-width="1.5" stroke-linecap="butt"/>
<rect x="468.40000000000003" y="1166.6" width="4.2" height="10.5" fill="#111"/>
<line x1="418.4" y1="1177.1" x2="472.6" y2="1177.1" stroke="#111" stroke-width="3.0" stroke-linecap="butt"/>
<line x1="418.4" y1="1193.7" x2="472.6" y2="1193.7" stroke="#111" stroke-width="3.0" stroke-linecap="butt"/>
<circle cx="434.3" cy="1185.4" r="2.9" fill="none" stroke="#111" stroke-width="1.5"/>
<line x1="437.0" y1="1193.7" x2="437.0" y2="1204.2" stroke="#111" stroke-width="1.5" stroke-linecap="butt"/>
<rect x="468.40000000000003" y="1193.7" width="4.2" height="10.5" fill="#111"/>
<line x1="418.4" y1="1204.2" x2="472.6" y2="1204.2" stroke="#111" stroke-width="3.0" stroke-linecap="butt"/>
<line x1="418.4" y1="1220.8" x2="472.6" y2="1220.8" stroke="#111" stroke-width="3.0" stroke-linecap="butt"/>
<circle cx="434.3" cy="1212.5" r="2.9" fill="none" stroke="#111" stroke-width="1.5"/>
<line x1="437.0" y1="1220.8" x2="437.0" y2="1231.3" stroke="#111" stroke-width="1.5" stroke-linecap="butt"/>
<rect x="468.40000000000003" y="1220.8" width="4.2" height="10.5" fill="#111"/>
<line x1="418.4" y1="1231.3" x2="472.6" y2="1231.3" stroke="#111" stroke-width="3.0" stroke-linecap="butt"/>
<line x1="418.4" y1="1247.9" x2="472.6" y2="1247.9" stroke="#111" stroke-width="3.0" stroke-linecap="butt"/>
<circle cx="434.3" cy="1239.6" r="2.9" fill="none" stroke="#111" stroke-width="1.5"/>
<line x1="437.0" y1="1247.9" x2="437.0" y2="1258.4" stroke="#111" stroke-width="1.5" stroke-linecap="butt"/>
<rect x="468.40000000000003" y="1247.9" width="4.2" height="10.5" fill="#111"/>
<line x1="418.4" y1="1258.4" x2="472.6" y2="1258.4" stroke="#111" stroke-width="3.0" stroke-linecap="butt"/>
<line x1="418.4" y1="1275.0" x2="472.6" y2="1275.0" stroke="#111" stroke-width="1.8" stroke-linecap="butt"/>
<circle cx="434.3" cy="1266.7" r="2.9" fill="none" stroke="#111" stroke-width="1.5"/>
<line x1="424.0" y1="977.6" x2="424.0" y2="986.6" stroke="#333" stroke-width="1.3" />
<line x1="429.0" y1="977.6" x2="429.0" y2="986.6" stroke="#333" stroke-width="1.3" />
<line x1="427.0" y1="1277.3" x2="427.0" y2="1286.3" stroke="#111" stroke-width="1.6" />
<line x1="232.5" y1="1076.9" x2="418.4" y2="1076.9" stroke="#111" stroke-width="2.4" stroke-linecap="butt"/>
<line x1="232.5" y1="1185.4" x2="418.4" y2="1185.4" stroke="#111" stroke-width="2.4" stroke-linecap="butt"/>
<line x1="215.9" y1="958.4" x2="434.3" y2="958.4" stroke="#222" stroke-width="1.4" />
<path d="M215.9,958.4 L225.9,956.2 L225.9,960.6 Z" fill="#333" stroke="#333" stroke-width="0.5"/>
<path d="M434.3,958.4 L424.3,960.6 L424.3,956.2 Z" fill="#111" stroke="#111" stroke-width="0.5"/>
<line x1="215.9" y1="954.0" x2="215.9" y2="992.5" stroke="#333" stroke-width="1.4" />
<line x1="434.3" y1="954.0" x2="434.3" y2="992.5" stroke="#111" stroke-width="1.9" />
<text transform="translate(297.9,957.5) rotate(0) scale(0.935,1) skewX(-8)" font-family="Liberation Serif, serif" font-size="27.5" font-weight="normal" text-anchor="start" fill="#111" stroke="#111" stroke-width="0.6" >40.00</text>
<circle cx="370.7" cy="946.6" r="11.2" fill="none" stroke="#666" stroke-width="1.2"/>
<text transform="translate(370.7,946.6) rotate(0) scale(0.64,1)" y="8.6" font-family="Liberation Serif, serif" font-weight="normal" font-size="26" text-anchor="middle" fill="#222" stroke="#222" stroke-width="0.3">O</text>
<line x1="437.0" y1="995.6" x2="503.0" y2="995.6" stroke="#111" stroke-width="1.9" />
<line x1="437.0" y1="1022.7" x2="503.0" y2="1022.7" stroke="#111" stroke-width="1.9" />
<line x1="500.3" y1="995.6" x2="500.3" y2="1080.0" stroke="#111" stroke-width="1.9" />
<path d="M500.3,995.6 L503.1,1004.6 L497.5,1004.6 Z" fill="#111" stroke="#111" stroke-width="0.5"/>
<path d="M500.3,1022.7 L497.5,1013.7 L503.1,1013.7 Z" fill="#111" stroke="#111" stroke-width="0.5"/>
<text transform="translate(499.0,1078.8) rotate(-90) scale(0.935,1)" font-family="Liberation Serif, serif" font-size="27.5" font-weight="normal" text-anchor="start" fill="#111" stroke="#111" stroke-width="0.6" >5.00</text>
<circle cx="490.8" cy="1092.4" r="11.2" fill="none" stroke="#111" stroke-width="1.6"/>
<text transform="translate(490.8,1092.4) rotate(0) scale(0.64,1)" y="8.6" font-family="Liberation Serif, serif" font-weight="bold" font-size="26" text-anchor="middle" fill="#111" stroke="#111" stroke-width="1.1">P</text>
<g id="iso1">
<path d="M908.0,408.4 L911.3,408.1 L914.6,407.6 L917.7,406.8 L920.7,405.8 L923.5,404.5 L926.2,402.9 L928.8,401.0 L931.2,399.0 L933.4,396.6 L935.4,394.0 L937.3,391.2 L938.9,388.2 L940.4,385.0 L941.7,381.5 L942.8,377.9 L943.6,374.1 L944.3,370.1 L944.7,366.0 L945.0,361.7 L945.0,357.3 L944.8,352.8 L944.4,348.1 L943.8,343.4 L943.0,338.6 L942.0,333.7 L940.8,328.8 L939.3,323.9 L937.7,319.0 L935.9,314.0 L933.9,309.1 L931.7,304.2 L929.4,299.3 L926.9,294.5 L924.2,289.8 L921.4,285.2 L918.5,280.6 L915.4,276.2 L912.2,271.9 L908.9,267.8 L905.4,263.8 L901.9,260.0 L898.3,256.4 L894.7,252.9 L891.0,249.7 L887.2,246.7 L883.4,243.9 L879.6,241.3 L875.7,239.0 L871.9,236.9 L868.1,235.0 L864.3,233.4 L860.5,232.1 L856.8,231.1 L853.2,230.3 L849.6,229.8 L846.1,229.5 L842.6,229.6 L839.3,229.9 L836.1,230.4 L833.0,231.3 L830.1,232.4 L827.3,233.8 L824.6,235.5 L822.1,237.4 L819.8,239.5 L817.6,241.9 L815.6,244.5 L813.8,247.4 L812.2,250.5 L810.7,253.8 L809.5,257.3 L808.5,260.9 L807.7,264.8 L807.1,268.8 L806.7,273.0 L806.5,277.3 L806.5,281.7 L806.7,286.3 L807.2,291.0 L807.9,295.7 L808.7,300.5 L809.8,305.4 L811.1,310.3 L812.5,315.2 L814.2,320.2 L816.1,325.1 L818.1,330.1 L820.3,335.0 L822.7,339.8 L825.3,344.6 L828.0,349.3 L830.8,353.9 L833.8,358.4 L836.9,362.8 L840.1,367.0 L843.5,371.1 Z" stroke="#3a3a3a" stroke-width="1.5" fill="#fff" />
<path d="M904.4,410.5 L907.7,410.2 L910.9,409.7 L914.1,408.9 L917.0,407.9 L919.9,406.6 L922.6,405.0 L925.1,403.1 L927.5,401.1 L929.7,398.7 L931.8,396.1 L933.6,393.3 L935.3,390.3 L936.8,387.1 L938.1,383.6 L939.1,380.0 L940.0,376.2 L940.7,372.2 L941.1,368.1 L941.3,363.8 L941.4,359.4 L941.2,354.9 L940.8,350.2 L940.2,345.5 L939.4,340.7 L938.3,335.8 L937.1,330.9 L935.7,326.0 L934.1,321.1 L932.3,316.1 L930.3,311.2 L928.1,306.3 L925.8,301.4 L923.3,296.6 L920.6,291.9 L917.8,287.3 L914.8,282.7 L911.7,278.3 L908.5,274.0 L905.2,269.9 L901.8,265.9 L898.3,262.1 L894.7,258.5 L891.0,255.0 L887.3,251.8 L883.6,248.8 L879.8,246.0 L875.9,243.4 L872.1,241.0 L868.3,239.0 L864.5,237.1 L860.7,235.5 L856.9,234.2 L853.2,233.2 L849.5,232.4 L845.9,231.9 L842.4,231.6 L839.0,231.7 L835.7,232.0 L832.5,232.5 L829.4,233.4 L826.4,234.5 L823.6,235.9 L821.0,237.6 L818.5,239.5 L816.1,241.6 L813.9,244.0 L812.0,246.6 L810.1,249.5 L808.5,252.6 L807.1,255.9 L805.9,259.4 L804.9,263.0 L804.0,266.9 L803.4,270.9 L803.0,275.1 L802.8,279.4 L802.9,283.8 L803.1,288.4 L803.6,293.1 L804.2,297.8 L805.1,302.6 L806.2,307.5 L807.4,312.4 L808.9,317.3 L810.6,322.3 L812.4,327.2 L814.5,332.2 L816.7,337.1 L819.1,341.9 L821.6,346.7 L824.3,351.4 L827.2,356.0 L830.2,360.5 L833.3,364.9 L836.5,369.1 L839.9,373.2 Z" stroke="#3a3a3a" stroke-width="1.5" fill="#fff" />
<path d="M761.3,219.5 L761.3,180.8 L767.1,171.3 L799.2,152.9 L806.6,158.7 L806.6,168.0 L782.8,159.2 L788.2,159.2 L798.0,164.8 L802.1,170.3 L807.5,170.3 L817.3,175.9 L821.4,181.3 L826.8,181.3 L836.6,186.9 L840.6,192.4 L846.0,192.4 L855.8,198.0 L859.9,203.5 L865.3,203.5 L875.1,209.1 L879.2,214.5 L884.6,214.5 L894.4,220.1 L898.5,225.6 L903.9,225.6 L913.7,231.2 L917.8,236.7 L923.2,236.7 L933.0,242.3 L937.0,247.8 L942.4,247.8 L952.2,253.4 L956.3,258.8 L961.7,258.8 L971.5,264.4 L975.6,269.9 L981.0,269.9 L1011.6,275.3 L1017.9,280.5 L1018.4,324.7 L981.1,344.9 Z" stroke="#fff" stroke-width="0.01" fill="#fff" />
<path d="M812.6,249.3 L762.8,220.6 L761.3,219.0 L761.3,180.8 L767.1,171.3 L797.5,153.8" stroke="#161616" stroke-width="2.0" fill="none" />
<path d="M981.1,344.9 L928.5,315.2" stroke="#161616" stroke-width="2.0" fill="none" />
<path d="M797.5,153.8 Q799.5,152.6 801.3,154.2 L806.6,158.7 V170.3" stroke="#161616" stroke-width="2.0" fill="none" />
<path d="M771.8,173.9 L804.5,156.6" stroke="#161616" stroke-width="1.88" fill="none" />
<path d="M767.1,171.3 L774.5,175.5" stroke="#161616" stroke-width="1.88" fill="none" />
<path d="M761.3,180.8 L768.7,184.5 L768.7,193.4" stroke="#161616" stroke-width="1.88" fill="none" />
<path d="M768.7,193.4 Q768.5,182 774.5,175.5" stroke="#161616" stroke-width="1.75" fill="none" />
<path d="M768.7,193.4 L782.6,185.6" stroke="#161616" stroke-width="1.88" fill="none" />
<path d="M776.0,181.5 L782.6,177.8" stroke="#161616" stroke-width="1.5" fill="none" />
<path d="M788.5,164.5 L804.5,156.2" stroke="#161616" stroke-width="1.5" fill="none" />
<path d="M788.5,170.0 L800.0,163.7" stroke="#161616" stroke-width="1.5" fill="none" />
<path d="M788.5,182.9 L801.3,175.5" stroke="#161616" stroke-width="1.5" fill="none" />
<path d="M768.7,193.4 L779.4,199.7 L801.0,187.6 L787.3,182.8 Z" stroke="#161616" stroke-width="1.62" fill="#fff" />
<path d="M779.4,199.7 L781.0,226.5 L788.3,230.2 L789.4,208.2 L790.8,206.1 Z" stroke="#fff" stroke-width="0.01" fill="#fff" />
<path d="M779.4,199.7 L781.0,226.5 L788.3,230.2 L789.4,208.2 L790.8,206.1" stroke="#161616" stroke-width="1.75" fill="none" />
<path d="M781.0,226.5 L788.3,230.2 L789.0,212.9 Z" stroke="#161616" stroke-width="1.88" fill="#fff" />
<path d="M781.3,226.0 L788.8,213.7" stroke="#161616" stroke-width="2.5" fill="none" />
<path d="M790.8,206.1 L798.7,210.8 L820.3,198.7 L812.4,194.0 Z" stroke="#161616" stroke-width="1.62" fill="#fff" />
<path d="M798.7,210.8 L800.3,237.6 L807.6,241.3 L808.7,219.3 L810.1,217.1 Z" stroke="#fff" stroke-width="0.01" fill="#fff" />
<path d="M798.7,210.8 L800.3,237.6 L807.6,241.3 L808.7,219.3 L810.1,217.1" stroke="#161616" stroke-width="1.75" fill="none" />
<path d="M800.3,237.6 L807.6,241.3 L808.3,224.0 Z" stroke="#161616" stroke-width="1.88" fill="#fff" />
<path d="M800.6,237.1 L808.1,224.8" stroke="#161616" stroke-width="2.5" fill="none" />
<path d="M806.6,170.3 Q815.7,173.8 818.3,179.8 L818.9,189.2 L820.0,198.8" stroke="#161616" stroke-width="1.62" fill="none" />
<path d="M808.2,181.3 L817.1,176.4" stroke="#161616" stroke-width="1.5" fill="none" />
<path d="M808.2,187.1 L818.5,181.1" stroke="#161616" stroke-width="1.5" fill="none" />
<path d="M808.7,194.5 L818.9,188.7" stroke="#161616" stroke-width="1.5" fill="none" />
<path d="M810.1,217.1 L818.0,221.8 L839.6,209.7 L831.7,205.0 Z" stroke="#555" stroke-width="1.62" fill="#fff" />
<path d="M818.0,221.8 L819.6,248.6 L826.9,252.3 L828.0,230.3 L829.3,228.2 Z" stroke="#fff" stroke-width="0.01" fill="#fff" />
<path d="M818.0,221.8 L819.6,248.6 L826.9,252.3 L828.0,230.3 L829.3,228.2" stroke="#555" stroke-width="1.75" fill="none" />
<path d="M819.6,248.6 L826.9,252.3 L827.6,235.0 Z" stroke="#555" stroke-width="1.88" fill="#fff" />
<path d="M819.9,248.1 L827.4,235.8" stroke="#555" stroke-width="2.5" fill="none" />
<path d="M825.9,181.3 Q835.0,184.8 837.6,190.8 L838.2,200.2 L839.3,209.8" stroke="#555" stroke-width="1.62" fill="none" />
<path d="M827.5,192.3 L836.4,187.4" stroke="#555" stroke-width="1.5" fill="none" />
<path d="M827.5,198.1 L837.8,192.1" stroke="#555" stroke-width="1.5" fill="none" />
<path d="M828.0,205.5 L838.2,199.7" stroke="#555" stroke-width="1.5" fill="none" />
<path d="M829.3,228.2 L837.2,232.9 L858.8,220.8 L850.9,216.1 Z" stroke="#555" stroke-width="1.62" fill="#fff" />
<path d="M837.2,232.9 L838.8,259.7 L846.1,263.4 L847.2,241.4 L848.6,239.3 Z" stroke="#fff" stroke-width="0.01" fill="#fff" />
<path d="M837.2,232.9 L838.8,259.7 L846.1,263.4 L847.2,241.4 L848.6,239.3" stroke="#555" stroke-width="1.75" fill="none" />
<path d="M838.8,259.7 L846.1,263.4 L846.8,246.1 Z" stroke="#555" stroke-width="1.88" fill="#fff" />
<path d="M839.1,259.2 L846.6,246.9" stroke="#555" stroke-width="2.5" fill="none" />
<path d="M845.1,192.4 Q854.2,195.9 856.8,201.9 L857.4,211.3 L858.5,220.9" stroke="#555" stroke-width="1.62" fill="none" />
<path d="M846.7,203.4 L855.6,198.5" stroke="#555" stroke-width="1.5" fill="none" />
<path d="M846.7,209.2 L857.0,203.2" stroke="#555" stroke-width="1.5" fill="none" />
<path d="M847.2,216.6 L857.4,210.8" stroke="#555" stroke-width="1.5" fill="none" />
<path d="M848.6,239.3 L856.5,244.0 L878.1,231.9 L870.2,227.2 Z" stroke="#555" stroke-width="1.62" fill="#fff" />
<path d="M856.5,244.0 L858.1,270.8 L865.4,274.5 L866.5,252.5 L867.9,250.3 Z" stroke="#fff" stroke-width="0.01" fill="#fff" />
<path d="M856.5,244.0 L858.1,270.8 L865.4,274.5 L866.5,252.5 L867.9,250.3" stroke="#555" stroke-width="1.75" fill="none" />
<path d="M858.1,270.8 L865.4,274.5 L866.1,257.2 Z" stroke="#555" stroke-width="1.88" fill="#fff" />
<path d="M858.4,270.3 L865.9,258.0" stroke="#555" stroke-width="2.5" fill="none" />
<path d="M864.4,203.5 Q873.5,207.0 876.1,213.0 L876.7,222.4 L877.8,232.0" stroke="#555" stroke-width="1.62" fill="none" />
<path d="M866.0,214.5 L874.9,209.6" stroke="#555" stroke-width="1.5" fill="none" />
<path d="M866.0,220.3 L876.3,214.3" stroke="#555" stroke-width="1.5" fill="none" />
<path d="M866.5,227.7 L876.7,221.9" stroke="#555" stroke-width="1.5" fill="none" />
<path d="M867.9,250.3 L875.8,255.0 L897.4,242.9 L889.5,238.2 Z" stroke="#555" stroke-width="1.62" fill="#fff" />
<path d="M875.8,255.0 L877.4,281.8 L884.7,285.5 L885.8,263.5 L887.2,261.4 Z" stroke="#fff" stroke-width="0.01" fill="#fff" />
<path d="M875.8,255.0 L877.4,281.8 L884.7,285.5 L885.8,263.5 L887.2,261.4" stroke="#555" stroke-width="1.75" fill="none" />
<path d="M877.4,281.8 L884.7,285.5 L885.4,268.2 Z" stroke="#555" stroke-width="1.88" fill="#fff" />
<path d="M877.7,281.3 L885.2,269.0" stroke="#555" stroke-width="2.5" fill="none" />
<path d="M883.7,214.5 Q892.8,218.0 895.4,224.0 L896.0,233.4 L897.1,243.0" stroke="#555" stroke-width="1.62" fill="none" />
<path d="M885.3,225.5 L894.2,220.6" stroke="#555" stroke-width="1.5" fill="none" />
<path d="M885.3,231.3 L895.6,225.3" stroke="#555" stroke-width="1.5" fill="none" />
<path d="M885.8,238.7 L896.0,232.9" stroke="#555" stroke-width="1.5" fill="none" />
<path d="M887.2,261.4 L895.1,266.1 L916.7,254.0 L908.8,249.3 Z" stroke="#555" stroke-width="1.62" fill="#fff" />
<path d="M895.1,266.1 L896.7,292.9 L904.0,296.6 L905.1,274.6 L906.5,272.5 Z" stroke="#fff" stroke-width="0.01" fill="#fff" />
<path d="M895.1,266.1 L896.7,292.9 L904.0,296.6 L905.1,274.6 L906.5,272.5" stroke="#555" stroke-width="1.75" fill="none" />
<path d="M896.7,292.9 L904.0,296.6 L904.7,279.3 Z" stroke="#555" stroke-width="1.88" fill="#fff" />
<path d="M897.0,292.4 L904.5,280.1" stroke="#555" stroke-width="2.5" fill="none" />
<path d="M903.0,225.6 Q912.1,229.1 914.7,235.1 L915.3,244.5 L916.4,254.1" stroke="#555" stroke-width="1.62" fill="none" />
<path d="M904.6,236.6 L913.5,231.7" stroke="#555" stroke-width="1.5" fill="none" />
<path d="M904.6,242.4 L914.9,236.4" stroke="#555" stroke-width="1.5" fill="none" />
<path d="M905.1,249.8 L915.3,244.0" stroke="#555" stroke-width="1.5" fill="none" />
<path d="M906.5,272.5 L914.4,277.2 L936.0,265.1 L928.1,260.4 Z" stroke="#161616" stroke-width="1.62" fill="#fff" />
<path d="M914.4,277.2 L916.0,304.0 L923.3,307.7 L924.4,285.7 L925.7,283.6 Z" stroke="#fff" stroke-width="0.01" fill="#fff" />
<path d="M914.4,277.2 L916.0,304.0 L923.3,307.7 L924.4,285.7 L925.7,283.6" stroke="#161616" stroke-width="1.75" fill="none" />
<path d="M916.0,304.0 L923.3,307.7 L924.0,290.4 Z" stroke="#161616" stroke-width="1.88" fill="#fff" />
<path d="M916.3,303.5 L923.8,291.2" stroke="#161616" stroke-width="2.5" fill="none" />
<path d="M922.3,236.7 Q931.4,240.2 934.0,246.2 L934.6,255.6 L935.7,265.2" stroke="#161616" stroke-width="1.62" fill="none" />
<path d="M923.9,247.7 L932.8,242.8" stroke="#161616" stroke-width="1.5" fill="none" />
<path d="M923.9,253.5 L934.2,247.5" stroke="#161616" stroke-width="1.5" fill="none" />
<path d="M924.4,260.9 L934.6,255.1" stroke="#161616" stroke-width="1.5" fill="none" />
<path d="M925.7,283.6 L933.6,288.3 L955.2,276.2 L947.3,271.5 Z" stroke="#161616" stroke-width="1.62" fill="#fff" />
<path d="M933.6,288.3 L935.2,315.1 L942.5,318.8 L943.6,296.8 L945.0,294.6 Z" stroke="#fff" stroke-width="0.01" fill="#fff" />
<path d="M933.6,288.3 L935.2,315.1 L942.5,318.8 L943.6,296.8 L945.0,294.6" stroke="#161616" stroke-width="1.75" fill="none" />
<path d="M935.2,315.1 L942.5,318.8 L943.2,301.5 Z" stroke="#161616" stroke-width="1.88" fill="#fff" />
<path d="M935.5,314.6 L943.0,302.3" stroke="#161616" stroke-width="2.5" fill="none" />
<path d="M941.5,247.8 Q950.6,251.3 953.2,257.3 L953.8,266.7 L954.9,276.3" stroke="#161616" stroke-width="1.62" fill="none" />
<path d="M943.1,258.8 L952.0,253.9" stroke="#161616" stroke-width="1.5" fill="none" />
<path d="M943.1,264.6 L953.4,258.6" stroke="#161616" stroke-width="1.5" fill="none" />
<path d="M943.6,272.0 L953.8,266.2" stroke="#161616" stroke-width="1.5" fill="none" />
<path d="M945.0,294.6 L952.9,299.3 L974.5,287.2 L966.6,282.5 Z" stroke="#161616" stroke-width="1.62" fill="#fff" />
<path d="M960.8,258.8 Q969.9,262.3 972.5,268.3 L973.1,277.7 L974.2,287.3" stroke="#161616" stroke-width="1.62" fill="none" />
<path d="M962.4,269.8 L971.3,264.9" stroke="#161616" stroke-width="1.5" fill="none" />
<path d="M962.4,275.6 L972.7,269.6" stroke="#161616" stroke-width="1.5" fill="none" />
<path d="M962.9,283.0 L973.1,277.2" stroke="#161616" stroke-width="1.5" fill="none" />
<path d="M981.1,344.9 L981.1,307.4 L982.0,300.0 L987.5,296.3 L1017.9,280.5 L1018.4,324.7 Z" stroke="#161616" stroke-width="2.0" fill="#fff" />
<path d="M976.5,293.5 L1009.5,274.6 L1012.5,274.3 L1017.9,280.5 L987.5,296.3 L983.0,297.0 Z" stroke="#161616" stroke-width="1.88" fill="#fff" />
<path d="M981.1,307.4 Q981.2,298 987.5,296.3" stroke="#161616" stroke-width="1.88" fill="none" />
<path d="M975.8,304.7 L981.1,307.4" stroke="#161616" stroke-width="1.88" fill="none" />
<path d="M976.5,293.5 L983.0,297.0" stroke="#161616" stroke-width="1.88" fill="none" />
<path d="M952.9,299.3 L954.5,326.1 L961.8,329.8 L962.9,307.8" stroke="#161616" stroke-width="1.75" fill="none" />
<path d="M954.8,325.6 L962.3,313.3" stroke="#161616" stroke-width="2.5" fill="none" />
<path d="M963.0,304.5 L974.0,310.5 L973.2,299.5 Z" stroke="#161616" stroke-width="1.75" fill="#fff" />
<path d="M783.0,190.2 V161.5 Q783.0,159.2 785.5,159.2 Q788.0,159.2 788.0,161.5 V190.2 Q788.0,192.0 785.5,192.0 Q783.0,192.0 783.0,190.2 Z" stroke="#161616" stroke-width="1.75" fill="#fff" />
<path d="M802.3,201.3 V172.6 Q802.3,170.3 804.8,170.3 Q807.3,170.3 807.3,172.6 V201.3 Q807.3,203.1 804.8,203.1 Q802.3,203.1 802.3,201.3 Z" stroke="#161616" stroke-width="1.75" fill="#fff" />
<path d="M821.6,212.3 V183.6 Q821.6,181.3 824.1,181.3 Q826.6,181.3 826.6,183.6 V212.3 Q826.6,214.1 824.1,214.1 Q821.6,214.1 821.6,212.3 Z" stroke="#161616" stroke-width="1.75" fill="#fff" />
<path d="M840.8,223.4 V194.7 Q840.8,192.4 843.3,192.4 Q845.8,192.4 845.8,194.7 V223.4 Q845.8,225.2 843.3,225.2 Q840.8,225.2 840.8,223.4 Z" stroke="#555" stroke-width="1.75" fill="#fff" />
<path d="M860.1,234.5 V205.8 Q860.1,203.5 862.6,203.5 Q865.1,203.5 865.1,205.8 V234.5 Q865.1,236.3 862.6,236.3 Q860.1,236.3 860.1,234.5 Z" stroke="#555" stroke-width="1.75" fill="#fff" />
<path d="M879.4,245.5 V216.8 Q879.4,214.5 881.9,214.5 Q884.4,214.5 884.4,216.8 V245.5 Q884.4,247.3 881.9,247.3 Q879.4,247.3 879.4,245.5 Z" stroke="#555" stroke-width="1.75" fill="#fff" />
<path d="M898.7,256.6 V227.9 Q898.7,225.6 901.2,225.6 Q903.7,225.6 903.7,227.9 V256.6 Q903.7,258.4 901.2,258.4 Q898.7,258.4 898.7,256.6 Z" stroke="#555" stroke-width="1.75" fill="#fff" />
<path d="M918.0,267.7 V239.0 Q918.0,236.7 920.5,236.7 Q923.0,236.7 923.0,239.0 V267.7 Q923.0,269.5 920.5,269.5 Q918.0,269.5 918.0,267.7 Z" stroke="#555" stroke-width="1.75" fill="#fff" />
<path d="M937.2,278.8 V250.1 Q937.2,247.8 939.7,247.8 Q942.2,247.8 942.2,250.1 V278.8 Q942.2,280.6 939.7,280.6 Q937.2,280.6 937.2,278.8 Z" stroke="#161616" stroke-width="1.75" fill="#fff" />
<path d="M956.5,289.8 V261.1 Q956.5,258.8 959.0,258.8 Q961.5,258.8 961.5,261.1 V289.8 Q961.5,291.6 959.0,291.6 Q956.5,291.6 956.5,289.8 Z" stroke="#161616" stroke-width="1.75" fill="#fff" />
<path d="M975.8,300.9 V272.2 Q975.8,269.9 978.3,269.9 Q980.8,269.9 980.8,272.2 V300.9 Q980.8,302.7 978.3,302.7 Q975.8,302.7 975.8,300.9 Z" stroke="#161616" stroke-width="1.75" fill="#fff" />
<path d="M844.3,272.9 L845.8,272.1 L847.4,271.5 L849.0,271.0 L850.7,270.6 L852.5,270.4 L854.3,270.3 L856.1,270.3 L858.0,270.5 L860.0,270.9 L861.9,271.3 L863.9,271.9 L866.0,272.7 L868.0,273.5 L870.1,274.5 L872.1,275.6 L874.2,276.9 L876.2,278.3 L878.3,279.8 L880.3,281.4 L882.3,283.1 L884.3,284.9 L886.2,286.8 L888.1,288.8 L890.0,290.9 L891.8,293.1 L893.5,295.3 L895.2,297.7 L896.9,300.1 L898.4,302.5 L899.9,305.0 L901.3,307.5 L902.7,310.1 L903.9,312.7 L905.1,315.4 L906.2,318.0 L907.1,320.7 L908.0,323.3 L908.8,326.0 L909.5,328.6 L910.1,331.2 L910.6,333.8 L910.9,336.4 L911.2,338.9 L911.4,341.3 L911.4,343.8 L911.4,346.1 L911.2,348.4 L910.9,350.6 L910.6,352.7 L910.1,354.7 L909.5,356.7 L908.8,358.5 L908.0,360.3 L907.1,361.9 L906.2,363.4 L905.1,364.8 L903.9,366.1 L902.7,367.3 L901.3,368.3 L899.9,369.2 L766.1,446.5 L763.8,447.6 L761.4,448.4 L758.9,448.9 L756.2,449.1 L753.4,448.9 L750.5,448.5 L747.5,447.7 L744.5,446.7 L741.4,445.3 L738.3,443.7 L735.2,441.8 L732.2,439.6 L729.1,437.1 L726.2,434.5 L723.3,431.6 L720.5,428.4 L717.8,425.1 L715.2,421.7 L712.8,418.1 L710.5,414.4 L708.4,410.5 L706.5,406.6 L704.8,402.7 L703.3,398.7 L702.0,394.7 L700.9,390.7 L700.1,386.8 L699.5,383.0 L699.1,379.2 L699.0,375.6 L699.1,372.1 L699.5,368.8 L700.1,365.6 L700.9,362.7 L702.0,360.0 L703.3,357.5 L704.8,355.2 L706.5,353.2 L708.4,351.6 L710.5,350.1 Z" stroke="#fff" stroke-width="0.01" fill="#fff" />
<path d="M710.5,350.1 L844.3,272.9 L845.8,272.1 L847.4,271.5 L849.0,271.0 L850.7,270.6 L852.5,270.4 L854.3,270.3 L856.1,270.3 L858.0,270.5 L860.0,270.9 L861.9,271.3 L863.9,271.9 L866.0,272.7 L868.0,273.5 L870.1,274.5 L872.1,275.6 L874.2,276.9 L876.2,278.3 L878.3,279.8 L880.3,281.4 L882.3,283.1 L884.3,284.9 L886.2,286.8 L888.1,288.8 L890.0,290.9 L891.8,293.1 L893.5,295.3 L895.2,297.7 L896.9,300.1 L898.4,302.5 L899.9,305.0 L901.3,307.5 L902.7,310.1 L903.9,312.7 L905.1,315.4 L906.2,318.0 L907.1,320.7 L908.0,323.3 L908.8,326.0 L909.5,328.6 L910.1,331.2 L910.6,333.8 L910.9,336.4 L911.2,338.9 L911.4,341.3 L911.4,343.8 L911.4,346.1 L911.2,348.4 L910.9,350.6 L910.6,352.7 L910.1,354.7 L909.5,356.7 L908.8,358.5 L908.0,360.3 L907.1,361.9 L906.2,363.4 L905.1,364.8 L903.9,366.1 L902.7,367.3 L901.3,368.3 L899.9,369.2 L766.1,446.5" stroke="#2a2a2a" stroke-width="1.62" fill="none" />
<path d="M794.1,475.6 L795.6,473.4 L796.9,471.0 L798.2,468.6 L799.3,466.0 L800.3,463.2 L801.1,460.4 L801.9,457.4 L802.5,454.3 L803.0,451.1 L803.3,447.9 L803.5,444.5 L803.6,441.0 L803.6,437.5 L803.4,433.9 L803.1,430.2 L802.6,426.5 L802.0,422.7 L801.3,418.9 L800.5,415.1 L799.5,411.2 L798.4,407.3 L797.2,403.4 L795.9,399.5 L794.5,395.6 L792.9,391.7 L791.2,387.8 L789.4,383.9 L787.5,380.1 L785.5,376.3 L783.5,372.5 L781.3,368.9 L779.0,365.2 L776.6,361.7 L774.2,358.2 L771.7,354.8 L769.1,351.5 L766.4,348.2 L763.7,345.1 L760.9,342.1 L758.1,339.2 L755.2,336.4 L752.3,333.7 L749.4,331.2 L746.4,328.8 L743.4,326.5 L740.4,324.4 L737.4,322.4 L734.3,320.6 L731.3,318.9 L728.3,317.4 L725.3,316.1 L722.3,314.9 L719.3,313.8 L716.3,313.0 L713.4,312.3 L710.6,311.7 L707.7,311.4 L705.0,311.2 L702.2,311.2 L699.6,311.3 L697.0,311.7 L694.5,312.2 L692.0,312.8 L689.7,313.7 L687.4,314.7 L685.2,315.8 L683.1,317.2 L681.1,318.6 L679.2,320.3 L677.4,322.1 L675.8,324.0 L674.2,326.1 L672.8,328.4 L671.4,330.8 L670.2,333.3 L669.1,335.9 L668.2,338.7 L667.3,341.6 L666.6,344.6 L666.0,347.7 L665.6,350.9 L665.3,354.2 L665.1,357.6 L665.1,361.0 L665.1,364.6 L665.3,368.2 L665.7,371.9 L666.2,375.6 L666.8,379.4 L667.5,383.2 L668.4,387.1 L669.4,391.0 L670.5,394.9 L671.7,398.8 L673.1,402.7 L674.6,406.6 Z" stroke="#161616" stroke-width="1.62" fill="#fff" />
<path d="M768.6,420.4 L768.5,416.9 L768.1,413.2 L767.5,409.5 L766.6,405.7 L765.4,401.8 L764.0,397.9 L762.4,394.1 L760.6,390.3 L758.6,386.6 L756.4,383.0 L754.0,379.5 L751.5,376.2 L748.8,373.1 L746.1,370.2 L743.2,367.5 L740.3,365.0 L737.3,362.9 L734.3,361.0 L731.3,359.4 L728.4,358.2 L725.5,357.2 L722.6,356.6 L719.8,356.3 L717.2,356.4 L714.7,356.8 L712.3,357.5 L710.1,358.6 L708.1,360.0 L706.2,361.7 L704.6,363.7 L703.2,365.9 L702.1,368.5 L701.2,371.2 L700.6,374.2 L700.2,377.4 L700.0,380.8 L700.2,384.3 L700.6,388.0 L701.2,391.7 L702.1,395.5 L703.2,399.4 L704.6,403.3 L706.2,407.1 L708.1,410.9 L710.1,414.6 L712.3,418.2 L714.7,421.7 L717.2,425.0 L719.8,428.1 L722.6,431.0 L725.5,433.7 L728.4,436.2 L731.3,438.3 L734.3,440.2 L737.3,441.8 L740.3,443.0 L743.2,444.0 L746.1,444.6 L748.8,444.9 L751.5,444.8 L754.0,444.4 L756.4,443.7 L758.6,442.6 L760.6,441.2 L762.4,439.5 L764.0,437.5 L765.4,435.3 L766.6,432.7 L767.5,430.0 L768.1,427.0 L768.5,423.8 L768.6,420.4 Z" stroke="#161616" stroke-width="1.5" fill="#fff" />
<path d="M670.4,409.0 L789.9,478.0 L794.1,475.6 L674.6,406.6 Z" stroke="#161616" stroke-width="1.5" fill="#fff" />
<path d="M672.5,407.8 L792.0,476.8" stroke="#161616" stroke-width="1.25" fill="none" />
<path d="M762.4,492.4 L764.1,492.3 L765.8,492.2 L767.4,492.0 L769.0,491.7 L770.6,491.3 L772.2,490.9 L773.7,490.4 L775.2,489.8 L776.6,489.2 L778.0,488.5 L779.4,487.7 L780.7,486.9 L782.0,486.0 L783.3,485.0 L784.5,484.0 L785.7,482.9 L786.8,481.8 L787.9,480.6 L788.9,479.3 L789.9,478.0 L798.1,473.3 L797.1,474.6 L796.0,475.9 L794.9,477.1 L793.8,478.2 L792.6,479.3 L791.4,480.3 L790.2,481.3 L788.9,482.2 L787.5,483.0 L786.1,483.8 L784.7,484.5 L783.3,485.1 L781.8,485.7 L780.3,486.2 L778.7,486.6 L777.2,487.0 L775.6,487.3 L773.9,487.5 L772.3,487.6 L770.6,487.7 Z" stroke="#161616" stroke-width="1.5" fill="#fff" />
<path d="M762.4,492.4 L764.1,492.3 L765.8,492.2 L767.4,492.0 L769.0,491.7 L770.6,491.3 L772.2,490.9 L773.7,490.4 L775.2,489.8 L776.6,489.2 L778.0,488.5 L779.4,487.7 L780.7,486.9 L782.0,486.0 L783.3,485.0 L784.5,484.0 L785.7,482.9 L786.8,481.8 L787.9,480.6 L788.9,479.3 L789.9,478.0 L670.4,409.0 L671.4,411.5 L672.5,414.0 L673.6,416.4 L674.7,418.9 L675.9,421.3 L677.1,423.7 L678.3,426.1 L679.6,428.5 L681.0,430.9 L682.3,433.3 L683.7,435.6 L685.2,437.9 L686.7,440.2 L688.2,442.4 L689.7,444.6 L691.3,446.8 L692.9,448.9 L694.6,451.1 L696.2,453.1 L697.9,455.2 Z" stroke="#161616" stroke-width="1.88" fill="#fff" />
<path d="M590.4,316.3 L590.4,274.4 L592.3,272.5 L622.4,255.4 L627.9,258.4 L634.6,270.7 L819.5,377.6 L835.8,376.7 L842.0,381.6 L847.2,383.9 L847.2,423.2 L810.7,443.2 Z" stroke="#fff" stroke-width="0.01" fill="#fff" />
<path d="M810.7,443.2 L592,317.4 Q590.4,316.5 590.4,314.5 V275.4 Q590.4,273.4 592.3,272.5 L620.5,256.4 Q622.4,255.4 624.2,256.4 L627.9,258.4" stroke="#161616" stroke-width="2.12" fill="none" />
<path d="M592.3,272.5 L599.6,276.8 L627.3,261.5" stroke="#161616" stroke-width="1.88" fill="none" />
<path d="M599.6,276.8 L599.6,291.0 L627.3,275.6" stroke="#161616" stroke-width="1.88" fill="none" />
<path d="M610.2,297.7 L645.6,277.3 L646.6,288.6 L613.4,307.2 L610.9,307.5 Z" stroke="#161616" stroke-width="1.62" fill="#fff" />
<path d="M599.6,291.0 L610.2,297.7 L645.6,277.3 L635.0,270.6 Z" stroke="#161616" stroke-width="1.75" fill="#fff" />
<path d="M610.9,307.5 L611.6,324.4 L616.9,327.2 L617.7,309.7 Q618.0,304.2 619.9,303.3" stroke="#161616" stroke-width="1.88" fill="#fff" />
<path d="M611.4,308.7 L612.1,324.0 L616.6,326.4" stroke="#161616" stroke-width="3.25" fill="none" />
<path d="M614.5,312.2 L614.3,322.7" stroke="#161616" stroke-width="1.25" fill="none" />
<path d="M613.4,307.2 L617.8,309.7" stroke="#161616" stroke-width="1.5" fill="none" />
<path d="M629.5,308.8 L664.9,288.4 L665.9,299.8 L632.7,318.3 L630.2,318.6 Z" stroke="#161616" stroke-width="1.62" fill="#fff" />
<path d="M619.9,303.3 L629.5,308.8 L664.9,288.4 L655.3,282.9 Z" stroke="#161616" stroke-width="1.75" fill="#fff" />
<path d="M630.2,318.6 L630.9,335.5 L636.2,338.3 L637.0,320.8 Q637.3,315.3 639.2,314.4" stroke="#161616" stroke-width="1.88" fill="#fff" />
<path d="M630.7,319.8 L631.4,335.1 L635.9,337.5" stroke="#161616" stroke-width="3.25" fill="none" />
<path d="M633.8,323.3 L633.6,333.8" stroke="#161616" stroke-width="1.25" fill="none" />
<path d="M632.7,318.3 L637.1,320.8" stroke="#161616" stroke-width="1.5" fill="none" />
<path d="M648.8,320.0 L684.2,299.6 L685.2,310.9 L652.0,329.5 L649.5,329.8 Z" stroke="#161616" stroke-width="1.62" fill="#fff" />
<path d="M639.2,314.4 L648.8,320.0 L684.2,299.6 L674.6,294.1 Z" stroke="#161616" stroke-width="1.75" fill="#fff" />
<path d="M649.5,329.8 L650.2,346.7 L655.5,349.5 L656.3,332.0 Q656.6,326.5 658.4,325.6" stroke="#161616" stroke-width="1.88" fill="#fff" />
<path d="M650.0,331.0 L650.7,346.3 L655.2,348.7" stroke="#161616" stroke-width="3.25" fill="none" />
<path d="M653.1,334.5 L652.9,345.0" stroke="#161616" stroke-width="1.25" fill="none" />
<path d="M652.0,329.5 L656.4,332.0" stroke="#161616" stroke-width="1.5" fill="none" />
<path d="M668.0,331.1 L703.4,310.8 L704.4,322.1 L671.2,340.6 L668.7,340.9 Z" stroke="#161616" stroke-width="1.62" fill="#fff" />
<path d="M658.4,325.6 L668.0,331.1 L703.4,310.8 L693.8,305.2 Z" stroke="#161616" stroke-width="1.75" fill="#fff" />
<path d="M668.7,340.9 L669.4,357.8 L674.7,360.6 L675.5,343.1 Q675.8,337.6 677.7,336.7" stroke="#161616" stroke-width="1.88" fill="#fff" />
<path d="M669.2,342.1 L669.9,357.4 L674.4,359.8" stroke="#161616" stroke-width="3.25" fill="none" />
<path d="M672.3,345.6 L672.1,356.1" stroke="#161616" stroke-width="1.25" fill="none" />
<path d="M671.2,340.6 L675.6,343.1" stroke="#161616" stroke-width="1.5" fill="none" />
<path d="M687.3,342.3 L722.7,321.9 L723.7,333.2 L690.5,351.8 L688.0,352.1 Z" stroke="#161616" stroke-width="1.62" fill="#fff" />
<path d="M677.7,336.8 L687.3,342.3 L722.7,321.9 L713.1,316.4 Z" stroke="#161616" stroke-width="1.75" fill="#fff" />
<path d="M688.0,352.1 L688.7,369.0 L694.0,371.8 L694.8,354.3 Q695.1,348.8 697.0,347.9" stroke="#161616" stroke-width="1.88" fill="#fff" />
<path d="M688.5,353.3 L689.2,368.6 L693.7,371.0" stroke="#161616" stroke-width="3.25" fill="none" />
<path d="M691.6,356.8 L691.4,367.3" stroke="#161616" stroke-width="1.25" fill="none" />
<path d="M690.5,351.8 L694.9,354.3" stroke="#161616" stroke-width="1.5" fill="none" />
<path d="M706.6,353.4 L742.0,333.1 L743.0,344.4 L709.8,362.9 L707.3,363.2 Z" stroke="#555" stroke-width="1.62" fill="#fff" />
<path d="M697.0,347.9 L706.6,353.4 L742.0,333.1 L732.4,327.5 Z" stroke="#555" stroke-width="1.75" fill="#fff" />
<path d="M707.3,363.2 L708.0,380.1 L713.3,382.9 L714.1,365.4 Q714.4,359.9 716.3,359.0" stroke="#555" stroke-width="1.88" fill="#fff" />
<path d="M707.8,364.4 L708.5,379.8 L713.0,382.1" stroke="#555" stroke-width="3.25" fill="none" />
<path d="M710.9,367.9 L710.7,378.4" stroke="#555" stroke-width="1.25" fill="none" />
<path d="M709.8,362.9 L714.2,365.4" stroke="#555" stroke-width="1.5" fill="none" />
<path d="M725.9,364.6 L761.3,344.2 L762.3,355.5 L729.1,374.1 L726.6,374.4 Z" stroke="#555" stroke-width="1.62" fill="#fff" />
<path d="M716.3,359.1 L725.9,364.6 L761.3,344.2 L751.7,338.7 Z" stroke="#555" stroke-width="1.75" fill="#fff" />
<path d="M726.6,374.4 L727.3,391.3 L732.6,394.1 L733.4,376.6 Q733.7,371.1 735.6,370.2" stroke="#555" stroke-width="1.88" fill="#fff" />
<path d="M727.1,375.6 L727.8,390.9 L732.3,393.3" stroke="#555" stroke-width="3.25" fill="none" />
<path d="M730.2,379.1 L730.0,389.6" stroke="#555" stroke-width="1.25" fill="none" />
<path d="M729.1,374.1 L733.5,376.6" stroke="#555" stroke-width="1.5" fill="none" />
<path d="M745.2,375.8 L780.6,355.4 L781.6,366.7 L748.4,385.2 L745.9,385.6 Z" stroke="#555" stroke-width="1.62" fill="#fff" />
<path d="M735.6,370.2 L745.2,375.8 L780.6,355.4 L771.0,349.8 Z" stroke="#555" stroke-width="1.75" fill="#fff" />
<path d="M745.9,385.6 L746.6,402.4 L751.9,405.2 L752.7,387.8 Q753.0,382.2 754.8,381.3" stroke="#555" stroke-width="1.88" fill="#fff" />
<path d="M746.4,386.8 L747.1,402.1 L751.6,404.4" stroke="#555" stroke-width="3.25" fill="none" />
<path d="M749.5,390.2 L749.3,400.8" stroke="#555" stroke-width="1.25" fill="none" />
<path d="M748.4,385.2 L752.8,387.8" stroke="#555" stroke-width="1.5" fill="none" />
<path d="M764.4,386.9 L799.8,366.5 L800.8,377.8 L767.6,396.4 L765.1,396.7 Z" stroke="#555" stroke-width="1.62" fill="#fff" />
<path d="M754.8,381.3 L764.4,386.9 L799.8,366.5 L790.2,360.9 Z" stroke="#555" stroke-width="1.75" fill="#fff" />
<path d="M765.1,396.7 L765.8,413.6 L771.1,416.4 L771.9,398.9 Q772.2,393.4 774.1,392.5" stroke="#555" stroke-width="1.88" fill="#fff" />
<path d="M765.6,397.9 L766.3,413.2 L770.8,415.6" stroke="#555" stroke-width="3.25" fill="none" />
<path d="M768.7,401.4 L768.5,411.9" stroke="#555" stroke-width="1.25" fill="none" />
<path d="M767.6,396.4 L772.0,398.9" stroke="#555" stroke-width="1.5" fill="none" />
<path d="M783.7,398.1 L819.1,377.7 L820.1,389.0 L786.9,407.6 L784.4,407.9 Z" stroke="#161616" stroke-width="1.62" fill="#fff" />
<path d="M774.1,392.5 L783.7,398.1 L819.1,377.7 L809.5,372.1 Z" stroke="#161616" stroke-width="1.75" fill="#fff" />
<path d="M784.4,407.9 L785.1,424.8 L790.4,427.6 L791.2,410.1" stroke="#161616" stroke-width="2.75" fill="#fff" />
<path d="M792.5,404.8 L802.8,409.8 L803.4,397.5 Z" stroke="#161616" stroke-width="1.88" fill="#fff" />
<path d="M810.7,443.2 L810.7,399.3 L840.3,382.2 L847.2,383.9 L847.2,423.2 Z" stroke="#161616" stroke-width="2.12" fill="#fff" />
<path d="M803.9,394.7 L810.7,399.3 L842.0,381.6 L835.8,376.7 Z" stroke="#161616" stroke-width="1.88" fill="#fff" />
<path d="M808.0,396.5 L839.5,378.7" stroke="#161616" stroke-width="1.38" fill="none" />
<path d="M634.5,271.1 q5,-0.4 8.3,2.6 L647.2,277.8" stroke="#161616" stroke-width="1.62" fill="none" />
<path d="M628.1,279.4 V250.4 Q628.1,247.8 631.2,247.8 Q634.3,247.8 634.3,250.4 V279.4 Q634.3,281.4 631.2,281.4 Q628.1,281.4 628.1,279.4 Z" stroke="#161616" stroke-width="1.88" fill="#fff" />
<path d="M653.8,282.2 q5,-0.4 8.3,2.6 L666.5,288.9" stroke="#161616" stroke-width="1.62" fill="none" />
<path d="M647.4,290.6 V261.6 Q647.4,258.9 650.5,258.9 Q653.6,258.9 653.6,261.6 V290.6 Q653.6,292.6 650.5,292.6 Q647.4,292.6 647.4,290.6 Z" stroke="#161616" stroke-width="1.88" fill="#fff" />
<path d="M673.1,293.4 q5,-0.4 8.3,2.6 L685.8,300.1" stroke="#161616" stroke-width="1.62" fill="none" />
<path d="M666.7,301.7 V272.7 Q666.7,270.1 669.8,270.1 Q672.9,270.1 672.9,272.7 V301.7 Q672.9,303.7 669.8,303.7 Q666.7,303.7 666.7,301.7 Z" stroke="#161616" stroke-width="1.88" fill="#fff" />
<path d="M692.3,304.6 q5,-0.4 8.3,2.6 L705.0,311.2" stroke="#161616" stroke-width="1.62" fill="none" />
<path d="M685.9,312.9 V283.9 Q685.9,281.2 689.0,281.2 Q692.1,281.2 692.1,283.9 V312.9 Q692.1,314.9 689.0,314.9 Q685.9,314.9 685.9,312.9 Z" stroke="#161616" stroke-width="1.88" fill="#fff" />
<path d="M711.6,315.7 q5,-0.4 8.3,2.6 L724.3,322.4" stroke="#161616" stroke-width="1.62" fill="none" />
<path d="M705.2,324.0 V295.0 Q705.2,292.4 708.3,292.4 Q711.4,292.4 711.4,295.0 V324.0 Q711.4,326.0 708.3,326.0 Q705.2,326.0 705.2,324.0 Z" stroke="#161616" stroke-width="1.88" fill="#fff" />
<path d="M730.9,326.9 q5,-0.4 8.3,2.6 L743.6,333.6" stroke="#555" stroke-width="1.62" fill="none" />
<path d="M724.5,335.2 V306.2 Q724.5,303.6 727.6,303.6 Q730.7,303.6 730.7,306.2 V335.2 Q730.7,337.2 727.6,337.2 Q724.5,337.2 724.5,335.2 Z" stroke="#555" stroke-width="1.88" fill="#fff" />
<path d="M750.2,338.0 q5,-0.4 8.3,2.6 L762.9,344.7" stroke="#555" stroke-width="1.62" fill="none" />
<path d="M743.8,346.3 V317.3 Q743.8,314.7 746.9,314.7 Q750.0,314.7 750.0,317.3 V346.3 Q750.0,348.3 746.9,348.3 Q743.8,348.3 743.8,346.3 Z" stroke="#555" stroke-width="1.88" fill="#fff" />
<path d="M769.5,349.2 q5,-0.4 8.3,2.6 L782.2,355.9" stroke="#555" stroke-width="1.62" fill="none" />
<path d="M763.1,357.5 V328.5 Q763.1,325.9 766.2,325.9 Q769.3,325.9 769.3,328.5 V357.5 Q769.3,359.5 766.2,359.5 Q763.1,359.5 763.1,357.5 Z" stroke="#555" stroke-width="1.88" fill="#fff" />
<path d="M788.7,360.3 q5,-0.4 8.3,2.6 L801.4,367.0" stroke="#555" stroke-width="1.62" fill="none" />
<path d="M782.3,368.6 V339.6 Q782.3,337.0 785.4,337.0 Q788.5,337.0 788.5,339.6 V368.6 Q788.5,370.6 785.4,370.6 Q782.3,370.6 782.3,368.6 Z" stroke="#555" stroke-width="1.88" fill="#fff" />
<path d="M808.0,371.5 q5,-0.4 8.3,2.6 L820.7,378.2" stroke="#161616" stroke-width="1.62" fill="none" />
<path d="M801.6,379.8 V350.8 Q801.6,348.2 804.7,348.2 Q807.8,348.2 807.8,350.8 V379.8 Q807.8,381.8 804.7,381.8 Q801.6,381.8 801.6,379.8 Z" stroke="#161616" stroke-width="1.88" fill="#fff" />
<path d="M820.9,382.3 V361.9 Q820.9,359.3 824.0,359.3 Q827.1,359.3 827.1,361.9 V382.3 Q827.1,384.3 824.0,384.3 Q820.9,384.3 820.9,382.3 Z" stroke="#161616" stroke-width="1.88" fill="#fff" />
</g>
<g id="iso2">
<path d="M789.6,982.9 L1010.4,1110.4 L1047.7,1088.9 L826.8,961.4 Z" stroke="#fff" stroke-width="0.01" fill="#fff" />
<path d="M959.3,1080.8 L1010.4,1110.4 L1047.7,1088.9 L826.8,961.4 L789.6,982.9 L815.6,997.9" stroke="#1c1c1c" stroke-width="2.1" fill="none" />
<path d="M1009.7,1110.0 L1046.8,1088.8 L1046.8,1132.1 L1013.4,1151.8 L1009.7,1150.6 Z" stroke="#1c1c1c" stroke-width="2.1" fill="#fff" />
<path d="M789.6,982.9 L789.6,1008.1" stroke="#1c1c1c" stroke-width="2.1" fill="none" />
<path d="M884.5,1065.8 V1044.4 L893.6,1048.9 L893.3,1063.7 Q889.1,1068.2 884.5,1065.8" stroke="#1c1c1c" stroke-width="1.95" fill="#fff" />
<path d="M893.3,1063.7 Q893.5,1071.7 898.1,1074.0 L903.8,1076.9" stroke="#1c1c1c" stroke-width="2.25" fill="none" />
<path d="M887.0,1066.4 V1091.2 Q887.0,1093.2 890.1,1093.2 Q893.2,1093.2 893.2,1091.2 V1064.7" stroke="#1c1c1c" stroke-width="2.25" fill="#fff" />
<path d="M903.8,1076.9 V1055.5 L912.9,1060.0 L912.6,1074.8 Q908.4,1079.3 903.8,1076.9" stroke="#1c1c1c" stroke-width="1.95" fill="#fff" />
<path d="M912.6,1074.8 Q912.8,1082.8 917.4,1085.1 L923.1,1088.0" stroke="#1c1c1c" stroke-width="2.25" fill="none" />
<path d="M906.3,1077.5 V1102.3 Q906.3,1104.3 909.4,1104.3 Q912.5,1104.3 912.5,1102.3 V1075.8" stroke="#1c1c1c" stroke-width="2.25" fill="#fff" />
<path d="M923.1,1088.0 V1066.6 L932.2,1071.1 L931.9,1085.9 Q927.7,1090.4 923.1,1088.0" stroke="#1c1c1c" stroke-width="1.95" fill="#fff" />
<path d="M931.9,1085.9 Q932.1,1093.9 936.7,1096.2 L942.4,1099.1" stroke="#1c1c1c" stroke-width="2.25" fill="none" />
<path d="M925.6,1088.6 V1113.4 Q925.6,1115.4 928.7,1115.4 Q931.8,1115.4 931.8,1113.4 V1086.9" stroke="#1c1c1c" stroke-width="2.25" fill="#fff" />
<path d="M942.4,1099.1 V1077.7 L951.5,1082.2 L951.2,1097.0 Q947.0,1101.5 942.4,1099.1" stroke="#1c1c1c" stroke-width="1.95" fill="#fff" />
<path d="M951.2,1097.0 Q951.4,1105.0 956.0,1107.3 L961.7,1110.2" stroke="#1c1c1c" stroke-width="2.25" fill="none" />
<path d="M944.9,1099.7 V1124.5 Q944.9,1126.5 948.0,1126.5 Q951.1,1126.5 951.1,1124.5 V1098.0" stroke="#1c1c1c" stroke-width="2.25" fill="#fff" />
<path d="M961.7,1110.2 V1088.8 L970.8,1093.3 L970.5,1108.1 Q966.3,1112.6 961.7,1110.2" stroke="#1c1c1c" stroke-width="1.95" fill="#fff" />
<path d="M970.5,1108.1 Q970.7,1116.1 975.3,1118.4 L981.0,1121.3" stroke="#1c1c1c" stroke-width="2.25" fill="none" />
<path d="M964.2,1110.8 V1135.6 Q964.2,1137.6 967.3,1137.6 Q970.4,1137.6 970.4,1135.6 V1109.1" stroke="#1c1c1c" stroke-width="2.25" fill="#fff" />
<path d="M981.0,1121.3 V1099.9 L990.1,1104.4 L989.8,1119.2 Q985.6,1123.7 981.0,1121.3" stroke="#1c1c1c" stroke-width="1.95" fill="#fff" />
<path d="M983.5,1121.9 V1146.7 Q983.5,1148.7 986.6,1148.7 Q989.7,1148.7 989.7,1146.7 V1120.2" stroke="#1c1c1c" stroke-width="2.25" fill="#fff" />
<path d="M989.8,1119.2 Q989.8,1125.7 991.6,1128.7 L1002.6,1136.1 L1003.0,1149" stroke="#1c1c1c" stroke-width="2.1" fill="none" />
<path d="M1002.6,1149 V1158 Q1002.6,1160 1005.8,1160 Q1009,1160 1009,1158 V1150.5" stroke="#1c1c1c" stroke-width="2.25" fill="#fff" />
<path d="M870.0,1077.5 L888.0,1068.5 L888.0,1086.0 L870.0,1077.5" stroke="#1c1c1c" stroke-width="1.8" fill="none" />
<path d="M964.1,1079.0 L965.3,1077.2 L966.4,1075.3 L967.4,1073.3 L968.3,1071.3 L969.2,1069.1 L970.0,1066.9 L970.7,1064.6 L971.3,1062.2 L971.8,1059.7 L972.2,1057.2 L972.6,1054.6 L972.8,1051.9 L973.0,1049.2 L973.1,1046.4 L973.1,1043.6 L973.0,1040.7 L972.9,1037.8 L972.6,1034.9 L972.3,1031.9 L971.8,1028.9 L971.3,1025.8 L970.7,1022.7 L970.0,1019.6 L969.3,1016.5 L968.4,1013.3 L967.5,1010.2 L966.5,1007.0 L965.4,1003.9 L964.3,1000.7 L963.0,997.6 L966.7,995.4 L965.5,992.4 L964.2,989.4 L962.8,986.5 L961.4,983.5 L959.9,980.6 L958.3,977.7 L956.7,974.8 L955.0,972.0 L953.3,969.2 L951.5,966.4 L949.7,963.7 L947.8,961.0 L945.9,958.4 L943.9,955.8 L941.9,953.3 L939.8,950.8 L875.8,913.8 L873.7,913.9 L871.7,914.1 L869.8,914.4 L867.8,914.8 L866.0,915.4 L864.1,916.0 L862.4,916.7 L860.6,917.5 L859.0,918.4 L857.3,919.4 L855.8,920.5 L854.3,921.7 L852.8,923.0 L851.5,924.4 L850.1,925.8 L848.9,927.4 L845.2,929.5 L843.9,931.3 L842.8,933.1 L841.7,935.0 L840.7,937.0 L839.8,939.0 L838.9,941.2 L838.1,943.5 L837.5,945.8 L836.9,948.2 L836.4,950.6 L835.9,953.2 L835.6,955.8 L835.3,958.4 L835.2,961.2 L835.1,963.9 L835.1,966.8 L835.2,969.6 L835.4,972.6 L835.6,975.5 L836.0,978.5 L836.4,981.5 L836.9,984.6 L837.5,987.7 L838.2,990.8 L839.0,993.9 L839.8,997.1 L840.8,1000.2 L841.8,1003.4 L842.9,1006.5 L844.0,1009.7 Z" stroke="#fff" stroke-width="0.01" fill="#fff" />
<path d="M964.1,1079.0 L965.3,1077.2 L966.4,1075.3 L967.4,1073.3 L968.3,1071.3 L969.2,1069.1 L970.0,1066.9 L970.7,1064.6 L971.3,1062.2 L971.8,1059.7 L972.2,1057.2 L972.6,1054.6 L972.8,1051.9 L973.0,1049.2 L973.1,1046.4 L973.1,1043.6 L973.0,1040.7 L972.9,1037.8 L972.6,1034.9 L972.3,1031.9 L971.8,1028.9 L971.3,1025.8 L970.7,1022.7 L970.0,1019.6 L969.3,1016.5 L968.4,1013.3 L967.5,1010.2 L966.5,1007.0 L965.4,1003.9 L964.3,1000.7 L963.0,997.6 L966.7,995.4 L965.5,992.4 L964.2,989.4 L962.8,986.5 L961.4,983.5 L959.9,980.6 L958.3,977.7 L956.7,974.8 L955.0,972.0 L953.3,969.2 L951.5,966.4 L949.7,963.7 L947.8,961.0 L945.9,958.4 L943.9,955.8 L941.9,953.3 L939.8,950.8 L875.8,913.8 L873.7,913.9 L871.7,914.1 L869.8,914.4 L867.8,914.8 L866.0,915.4 L864.1,916.0 L862.4,916.7 L860.6,917.5 L859.0,918.4 L857.3,919.4 L855.8,920.5 L854.3,921.7 L852.8,923.0 L851.5,924.4 L850.1,925.8 L848.9,927.4 L845.2,929.5 L843.9,931.3 L842.8,933.1 L841.7,935.0 L840.7,937.0 L839.8,939.0 L838.9,941.2 L838.1,943.5 L837.5,945.8 L836.9,948.2 L836.4,950.6 L835.9,953.2 L835.6,955.8 L835.3,958.4 L835.2,961.2 L835.1,963.9 L835.1,966.8 L835.2,969.6 L835.4,972.6 L835.6,975.5 L836.0,978.5 L836.4,981.5 L836.9,984.6 L837.5,987.7 L838.2,990.8 L839.0,993.9 L839.8,997.1 L840.8,1000.2 L841.8,1003.4 L842.9,1006.5 L844.0,1009.7" stroke="#1c1c1c" stroke-width="1.72" fill="none" />
<path d="M960.2,1081.3 L961.0,1080.0 L961.9,1078.6 L962.7,1077.1 L963.4,1075.6 L964.2,1074.0 L964.8,1072.4 L965.4,1070.8 L966.0,1069.1 L966.5,1067.3 L967.0,1065.6 L967.4,1063.7 L967.8,1061.9 L968.2,1060.0 L968.4,1058.0 L968.7,1056.1 L968.9,1054.0 L969.0,1052.0 L969.1,1049.9 L969.1,1047.8 L969.1,1045.7 L969.1,1043.5 L968.9,1041.3 L968.8,1039.1 L968.6,1036.9 L968.3,1034.6 L968.0,1032.3 L967.7,1030.0 L967.3,1027.7 L966.8,1025.4 L966.3,1023.1 L965.8,1020.7 L965.2,1018.4 L964.5,1016.0 L963.9,1013.6 L963.1,1011.2 L962.4,1008.9 L961.5,1006.5 L960.7,1004.1 L959.8,1001.7 L958.8,999.3 L957.8,997.0 L956.8,994.6 L955.7,992.3 L954.6,989.9 L953.5,987.6 L952.3,985.3 L951.0,983.0 L949.8,980.7 L948.5,978.4 L947.1,976.2 L945.8,974.0 L944.4,971.8 L943.0,969.6 L941.5,967.5 L940.0,965.3 L938.5,963.3 L936.9,961.2 L935.4,959.2 L933.8,957.2 L932.1,955.2 L868.1,918.3 L866.5,918.3 L864.9,918.5 L863.3,918.7 L861.7,918.9 L860.2,919.3 L858.7,919.7 L857.3,920.1 L855.8,920.6 L854.4,921.2 L853.1,921.9 L851.7,922.6 L850.4,923.3 L849.2,924.2 L847.9,925.0 L846.8,926.0 L845.6,927.0 L844.5,928.0 L843.4,929.2 L842.4,930.3 L841.4,931.5 L840.5,932.8 L839.5,934.2 L838.7,935.5 L837.9,937.0 L837.1,938.5 L836.4,940.0 L835.7,941.6 L835.0,943.2 L834.4,944.9 L833.9,946.6 L833.4,948.4 L833.0,950.2 L832.6,952.0 L832.2,953.9 L831.9,955.8 L831.6,957.8 L831.4,959.8 L831.3,961.8 L831.2,963.9 L831.1,966.0 L831.1,968.1 L831.1,970.3 L831.2,972.4 L831.4,974.7 L831.5,976.9 L831.8,979.1 L832.1,981.4 L832.4,983.7 L832.8,986.0 L833.2,988.3 L833.7,990.6 L834.2,993.0 L834.8,995.3 L835.4,997.7 L836.1,1000.1 L836.8,1002.5 L837.5,1004.8 L838.3,1007.2 L839.2,1009.6 L840.1,1012.0 Z" stroke="#fff" stroke-width="0.01" fill="#fff" />
<path d="M960.2,1081.3 L961.0,1080.0 L961.9,1078.6 L962.7,1077.1 L963.4,1075.6 L964.2,1074.0 L964.8,1072.4 L965.4,1070.8 L966.0,1069.1 L966.5,1067.3 L967.0,1065.6 L967.4,1063.7 L967.8,1061.9 L968.2,1060.0 L968.4,1058.0 L968.7,1056.1 L968.9,1054.0 L969.0,1052.0 L969.1,1049.9 L969.1,1047.8 L969.1,1045.7 L969.1,1043.5 L968.9,1041.3 L968.8,1039.1 L968.6,1036.9 L968.3,1034.6 L968.0,1032.3 L967.7,1030.0 L967.3,1027.7 L966.8,1025.4 L966.3,1023.1 L965.8,1020.7 L965.2,1018.4 L964.5,1016.0 L963.9,1013.6 L963.1,1011.2 L962.4,1008.9 L961.5,1006.5 L960.7,1004.1 L959.8,1001.7 L958.8,999.3 L957.8,997.0 L956.8,994.6 L955.7,992.3 L954.6,989.9 L953.5,987.6 L952.3,985.3 L951.0,983.0 L949.8,980.7 L948.5,978.4 L947.1,976.2 L945.8,974.0 L944.4,971.8 L943.0,969.6 L941.5,967.5 L940.0,965.3 L938.5,963.3 L936.9,961.2 L935.4,959.2 L933.8,957.2 L932.1,955.2 L868.1,918.3 L866.5,918.3 L864.9,918.5 L863.3,918.7 L861.7,918.9 L860.2,919.3 L858.7,919.7 L857.3,920.1 L855.8,920.6 L854.4,921.2 L853.1,921.9 L851.7,922.6 L850.4,923.3 L849.2,924.2 L847.9,925.0 L846.8,926.0 L845.6,927.0 L844.5,928.0 L843.4,929.2 L842.4,930.3 L841.4,931.5 L840.5,932.8 L839.5,934.2 L838.7,935.5 L837.9,937.0 L837.1,938.5 L836.4,940.0 L835.7,941.6 L835.0,943.2 L834.4,944.9 L833.9,946.6 L833.4,948.4 L833.0,950.2 L832.6,952.0 L832.2,953.9 L831.9,955.8 L831.6,957.8 L831.4,959.8 L831.3,961.8 L831.2,963.9 L831.1,966.0 L831.1,968.1 L831.1,970.3 L831.2,972.4 L831.4,974.7 L831.5,976.9 L831.8,979.1 L832.1,981.4 L832.4,983.7 L832.8,986.0 L833.2,988.3 L833.7,990.6 L834.2,993.0 L834.8,995.3 L835.4,997.7 L836.1,1000.1 L836.8,1002.5 L837.5,1004.8 L838.3,1007.2 L839.2,1009.6 L840.1,1012.0" stroke="#1c1c1c" stroke-width="1.8" fill="none" />
<path d="M963.0,997.6 L966.7,995.4" stroke="#1c1c1c" stroke-width="1.65" fill="none" />
<path d="M932.1,955.2 L939.8,950.8" stroke="#1c1c1c" stroke-width="1.65" fill="none" />
<path d="M872.3,959.2 L873.8,958.4 L875.4,957.8 L877.0,957.3 L878.7,956.9 L880.5,956.7 L882.3,956.6 L884.1,956.6 L886.0,956.8 L888.0,957.2 L889.9,957.6 L891.9,958.2 L894.0,959.0 L896.0,959.8 L898.1,960.8 L900.1,962.0 L902.2,963.2 L904.2,964.6 L906.3,966.1 L908.3,967.7 L910.3,969.4 L912.3,971.2 L914.2,973.1 L916.1,975.1 L918.0,977.2 L919.8,979.4 L921.5,981.6 L923.2,984.0 L924.9,986.4 L926.4,988.8 L927.9,991.3 L929.3,993.8 L930.7,996.4 L931.9,999.0 L933.1,1001.7 L934.2,1004.3 L935.1,1007.0 L936.0,1009.6 L936.8,1012.3 L937.5,1014.9 L938.1,1017.5 L938.6,1020.1 L938.9,1022.7 L939.2,1025.2 L939.4,1027.6 L939.4,1030.1 L939.4,1032.4 L939.2,1034.7 L938.9,1036.9 L938.6,1039.0 L938.1,1041.0 L937.5,1043.0 L936.8,1044.8 L936.0,1046.6 L935.1,1048.2 L934.2,1049.7 L933.1,1051.1 L931.9,1052.4 L930.7,1053.6 L929.3,1054.6 L927.9,1055.5 L794.1,1132.8 L791.8,1133.9 L789.4,1134.7 L786.9,1135.2 L784.2,1135.4 L781.4,1135.2 L778.5,1134.8 L775.5,1134.0 L772.5,1133.0 L769.4,1131.6 L766.3,1130.0 L763.2,1128.1 L760.2,1125.9 L757.1,1123.4 L754.2,1120.8 L751.3,1117.9 L748.5,1114.7 L745.8,1111.4 L743.2,1108.0 L740.8,1104.4 L738.5,1100.7 L736.4,1096.8 L734.5,1092.9 L732.8,1089.0 L731.3,1085.0 L730.0,1081.0 L728.9,1077.0 L728.1,1073.1 L727.5,1069.3 L727.1,1065.5 L727.0,1061.9 L727.1,1058.4 L727.5,1055.1 L728.1,1051.9 L728.9,1049.0 L730.0,1046.3 L731.3,1043.8 L732.8,1041.5 L734.5,1039.5 L736.4,1037.9 L738.5,1036.4 Z" stroke="#fff" stroke-width="0.01" fill="#fff" />
<path d="M738.5,1036.4 L872.3,959.2 L873.8,958.4 L875.4,957.8 L877.0,957.3 L878.7,956.9 L880.5,956.7 L882.3,956.6 L884.1,956.6 L886.0,956.8 L888.0,957.2 L889.9,957.6 L891.9,958.2 L894.0,959.0 L896.0,959.8 L898.1,960.8 L900.1,962.0 L902.2,963.2 L904.2,964.6 L906.3,966.1 L908.3,967.7 L910.3,969.4 L912.3,971.2 L914.2,973.1 L916.1,975.1 L918.0,977.2 L919.8,979.4 L921.5,981.6 L923.2,984.0 L924.9,986.4 L926.4,988.8 L927.9,991.3 L929.3,993.8 L930.7,996.4 L931.9,999.0 L933.1,1001.7 L934.2,1004.3 L935.1,1007.0 L936.0,1009.6 L936.8,1012.3 L937.5,1014.9 L938.1,1017.5 L938.6,1020.1 L938.9,1022.7 L939.2,1025.2 L939.4,1027.6 L939.4,1030.1 L939.4,1032.4 L939.2,1034.7 L938.9,1036.9 L938.6,1039.0 L938.1,1041.0 L937.5,1043.0 L936.8,1044.8 L936.0,1046.6 L935.1,1048.2 L934.2,1049.7 L933.1,1051.1 L931.9,1052.4 L930.7,1053.6 L929.3,1054.6 L927.9,1055.5 L794.1,1132.8" stroke="#1c1c1c" stroke-width="1.8" fill="none" />
<path d="M618.4,1081.7 L839.2,1209.2 L876.5,1187.7 L655.6,1060.2 Z" stroke="#1c1c1c" stroke-width="1.95" fill="#fff" />
<path d="M826.4,1158.6 L827.2,1157.2 L828.1,1155.8 L828.9,1154.4 L829.6,1152.8 L830.4,1151.3 L831.0,1149.7 L831.6,1148.0 L832.2,1146.3 L832.7,1144.6 L833.2,1142.8 L833.6,1141.0 L834.0,1139.1 L834.4,1137.2 L834.6,1135.3 L834.9,1133.3 L835.1,1131.3 L835.2,1129.3 L835.3,1127.2 L835.3,1125.1 L835.3,1122.9 L835.3,1120.8 L835.2,1118.6 L835.0,1116.4 L834.8,1114.1 L834.5,1111.9 L834.2,1109.6 L833.9,1107.3 L833.5,1105.0 L833.0,1102.7 L832.5,1100.3 L832.0,1098.0 L831.4,1095.6 L830.7,1093.2 L830.1,1090.9 L829.3,1088.5 L828.6,1086.1 L827.7,1083.7 L826.9,1081.3 L826.0,1079.0 L825.0,1076.6 L824.0,1074.2 L823.0,1071.9 L821.9,1069.5 L820.8,1067.2 L819.7,1064.8 L818.5,1062.5 L817.2,1060.2 L816.0,1057.9 L814.7,1055.7 L813.4,1053.4 L812.0,1051.2 L810.6,1049.0 L809.2,1046.8 L807.7,1044.7 L806.2,1042.6 L804.7,1040.5 L803.1,1038.4 L801.6,1036.4 L800.0,1034.4 L798.3,1032.5 L734.3,995.5 L732.7,995.6 L731.1,995.7 L729.5,995.9 L727.9,996.2 L726.4,996.5 L724.9,996.9 L723.5,997.4 L722.0,997.9 L720.6,998.5 L719.3,999.1 L717.9,999.8 L716.6,1000.6 L715.4,1001.4 L714.2,1002.3 L713.0,1003.2 L711.8,1004.2 L710.7,1005.3 L709.6,1006.4 L708.6,1007.6 L707.6,1008.8 L706.7,1010.1 L705.7,1011.4 L704.9,1012.8 L704.1,1014.2 L703.3,1015.7 L702.6,1017.3 L701.9,1018.8 L701.2,1020.5 L700.6,1022.1 L700.1,1023.9 L699.6,1025.6 L699.2,1027.4 L698.8,1029.3 L698.4,1031.2 L698.1,1033.1 L697.8,1035.1 L697.6,1037.1 L697.5,1039.1 L697.4,1041.1 L697.3,1043.2 L697.3,1045.4 L697.3,1047.5 L697.4,1049.7 L697.6,1051.9 L697.7,1054.1 L698.0,1056.4 L698.3,1058.6 L698.6,1060.9 L699.0,1063.2 L699.4,1065.6 L699.9,1067.9 L700.4,1070.2 L701.0,1072.6 L701.6,1075.0 L702.3,1077.3 L703.0,1079.7 L703.7,1082.1 L704.5,1084.5 L705.4,1086.9 L706.3,1089.2 Z" stroke="#1c1c1c" stroke-width="1.72" fill="#fff" />
<path d="M822.4,1160.9 L823.5,1159.1 L824.6,1157.2 L825.6,1155.2 L826.6,1153.1 L827.4,1151.0 L828.2,1148.7 L828.9,1146.4 L829.5,1144.0 L830.0,1141.6 L830.5,1139.0 L830.8,1136.4 L831.1,1133.8 L831.2,1131.1 L831.3,1128.3 L831.3,1125.5 L831.3,1122.6 L831.1,1119.7 L830.8,1116.7 L830.5,1113.7 L830.1,1110.7 L829.6,1107.6 L829.0,1104.6 L828.3,1101.5 L827.5,1098.3 L826.7,1095.2 L825.7,1092.0 L824.7,1088.9 L823.7,1085.7 L822.5,1082.6 L821.3,1079.4 L703.4,1011.4 L702.2,1013.1 L701.0,1014.9 L699.9,1016.8 L698.9,1018.8 L698.0,1020.9 L697.1,1023.1 L696.4,1025.3 L695.7,1027.6 L695.1,1030.0 L694.6,1032.5 L694.2,1035.0 L693.8,1037.6 L693.6,1040.3 L693.4,1043.0 L693.3,1045.8 L693.3,1048.6 L693.4,1051.5 L693.6,1054.4 L693.9,1057.4 L694.2,1060.4 L694.6,1063.4 L695.2,1066.5 L695.8,1069.5 L696.5,1072.6 L697.2,1075.8 L698.1,1078.9 L699.0,1082.1 L700.0,1085.2 L701.1,1088.4 L702.3,1091.5 Z" stroke="#1c1c1c" stroke-width="1.8" fill="#fff" />
<path d="M797.1,1107.0 L797.0,1103.4 L796.6,1099.7 L796.0,1095.9 L795.0,1092.0 L793.9,1088.1 L792.5,1084.2 L790.8,1080.3 L789.0,1076.5 L786.9,1072.7 L784.7,1069.0 L782.3,1065.5 L779.7,1062.1 L777.0,1059.0 L774.2,1056.0 L771.3,1053.3 L768.4,1050.8 L765.4,1048.6 L762.3,1046.7 L759.3,1045.1 L756.3,1043.8 L753.3,1042.9 L750.4,1042.2 L747.6,1042.0 L744.9,1042.0 L742.4,1042.4 L740.0,1043.2 L737.7,1044.3 L735.7,1045.7 L733.8,1047.4 L732.2,1049.4 L730.8,1051.7 L729.6,1054.3 L728.7,1057.1 L728.0,1060.1 L727.6,1063.4 L727.5,1066.8 L727.6,1070.4 L728.0,1074.1 L728.7,1077.9 L729.6,1081.8 L730.8,1085.7 L732.2,1089.6 L733.8,1093.5 L735.7,1097.3 L737.7,1101.1 L740.0,1104.8 L742.4,1108.3 L744.9,1111.7 L747.6,1114.8 L750.4,1117.8 L753.3,1120.5 L756.3,1123.0 L759.3,1125.2 L762.3,1127.1 L765.4,1128.7 L768.4,1130.0 L771.3,1130.9 L774.2,1131.6 L777.0,1131.8 L779.7,1131.8 L782.3,1131.4 L784.7,1130.6 L786.9,1129.5 L789.0,1128.1 L790.8,1126.4 L792.5,1124.4 L793.9,1122.1 L795.0,1119.5 L796.0,1116.7 L796.6,1113.7 L797.0,1110.4 L797.1,1107.0 Z" stroke="#1c1c1c" stroke-width="1.8" fill="#fff" />
<path d="M726.1,1000.2 L790.2,1037.2 L798.3,1032.5 L734.3,995.5 Z" stroke="#1c1c1c" stroke-width="1.72" fill="#fff" />
<path d="M817.1,1081.8 L815.8,1078.8 L814.5,1075.8 L813.2,1072.9 L811.7,1069.9 L810.2,1067.0 L808.7,1064.1 L807.0,1061.2 L805.4,1058.4 L803.6,1055.6 L801.9,1052.8 L800.0,1050.1 L798.1,1047.4 L796.2,1044.8 L794.3,1042.2 L792.2,1039.7 L790.2,1037.2 L798.3,1032.5 L800.4,1035.0 L802.4,1037.5 L804.4,1040.1 L806.3,1042.7 L808.2,1045.4 L810.0,1048.1 L811.8,1050.9 L813.5,1053.7 L815.2,1056.5 L816.8,1059.4 L818.4,1062.3 L819.9,1065.2 L821.3,1068.2 L822.7,1071.1 L824.0,1074.1 L825.2,1077.1 Z" stroke="#1c1c1c" stroke-width="1.72" fill="#fff" />
<path d="M817.1,1081.8 L815.8,1078.8 L814.5,1075.8 L813.2,1072.9 L811.7,1069.9 L810.2,1067.0 L808.7,1064.1 L807.0,1061.2 L805.4,1058.4 L803.6,1055.6 L801.9,1052.8 L800.0,1050.1 L798.1,1047.4 L796.2,1044.8 L794.3,1042.2 L792.2,1039.7 L790.2,1037.2 L726.1,1000.2 L724.1,1000.3 L722.1,1000.5 L720.1,1000.8 L718.2,1001.2 L716.3,1001.8 L714.5,1002.4 L712.7,1003.1 L711.0,1003.9 L709.3,1004.8 L707.7,1005.8 L706.1,1006.9 L704.6,1008.1 L703.2,1009.4 L701.8,1010.8 L700.5,1012.2 L699.2,1013.8 Z" stroke="#1c1c1c" stroke-width="1.88" fill="#fff" />
<path d="M817.1,1081.8 L821.3,1079.4" stroke="#1c1c1c" stroke-width="1.65" fill="none" />
<path d="M838.9,1208.9 L875.8,1187.9 L875.8,1224.7 L868.9,1235.8 L838.9,1252.6 Z" stroke="#1c1c1c" stroke-width="2.03" fill="#fff" />
<path d="M849.5,1247.3 Q853,1250.3 856.3,1245.2" stroke="#1c1c1c" stroke-width="2.4" fill="none" />
<path d="M618.9,1082.6 L838.9,1208.9 L838.9,1252.6 L834.0,1250.5 L831.1,1246.0 L831.1,1234.2 L820.5,1227.9 L819.1,1224.4 L818.6,1202.4 L812.1,1198.4 L810.6,1222.4 L803.1,1221.6 L800.8,1215.4 L799.8,1213.4 L799.3,1191.4 L792.8,1187.4 L791.3,1211.4 L783.8,1210.6 L781.5,1204.4 L780.6,1202.3 L780.1,1180.3 L773.6,1176.3 L772.1,1200.3 L764.6,1199.5 L762.3,1193.3 L761.3,1191.3 L760.8,1169.3 L754.3,1165.3 L752.8,1189.3 L745.3,1188.5 L743.0,1182.3 L742.1,1180.2 L741.6,1158.2 L735.1,1154.2 L733.6,1178.2 L726.1,1177.4 L723.8,1171.2 L722.9,1169.1 L722.4,1147.1 L715.9,1143.1 L714.4,1167.1 L706.9,1166.3 L704.6,1160.1 L703.6,1158.1 L703.1,1136.1 L696.6,1132.1 L695.1,1156.1 L687.6,1155.3 L685.3,1149.1 L684.4,1147.0 L683.9,1125.0 L677.4,1121.0 L675.9,1145.0 L668.4,1144.2 L666.1,1138.0 L665.1,1136.0 L664.6,1114.0 L658.1,1110.0 L656.6,1134.0 L649.1,1133.2 L646.8,1127.0 L645.9,1124.9 L645.4,1102.9 L638.9,1098.9 L637.4,1122.9 L637.9,1122.6 L626.8,1116.3 L625.8,1131.0 L620.5,1128.9 L617.9,1124.7 Z" stroke="#fff" stroke-width="0.01" fill="#fff" />
<path d="M838.9,1208.9 L618.9,1082.6 Q617.9,1083 617.9,1084.5 V1123.5 Q617.9,1127.5 620.5,1128.9 L625.8,1131 L626.8,1116.3 L637.9,1122.6" stroke="#1c1c1c" stroke-width="2.03" fill="none" />
<path d="M625.8,1131.0 L644.7,1119.8" stroke="#1c1c1c" stroke-width="1.8" fill="none" />
<path d="M628.5,1120.3 L628.5,1127.8 L635.5,1123.8 L628.5,1120.3" stroke="#1c1c1c" stroke-width="1.5" fill="none" />
<path d="M838.9,1208.9 L838.9,1252.6" stroke="#1c1c1c" stroke-width="2.03" fill="none" />
<path d="M838.9,1252.6 Q832.5,1251 831.1,1245.5 V1234.2 L821.5,1228.5" stroke="#1c1c1c" stroke-width="1.95" fill="none" />
<path d="M637.3,1122.4 L638.9,1098.9 L645.3,1102.2 L645.5,1119.9" stroke="#1c1c1c" stroke-width="1.95" fill="#fff" />
<path d="M638.3,1120.9 L639.8,1100.4" stroke="#1c1c1c" stroke-width="3.3" fill="none" />
<path d="M639.4,1113.1 L645.3,1116.3" stroke="#1c1c1c" stroke-width="2.4" fill="none" />
<path d="M642.1,1101.9 L641.9,1111.9" stroke="#555" stroke-width="1.35" fill="none" />
<path d="M639.5,1115.1 L644.5,1118.1 L639.2,1121.4" stroke="#1c1c1c" stroke-width="1.65" fill="none" />
<path d="M645.5,1119.9 Q645.5,1126.9 649.4,1129.5 L655.7,1133.1" stroke="#1c1c1c" stroke-width="1.88" fill="none" />
<circle cx="658.9" cy="1135.3" r="2.7" fill="#fff" stroke="#1c1c1c" stroke-width="1.3"/>
<path d="M656.5,1133.5 L658.1,1110.0 L664.5,1113.3 L664.7,1131.0" stroke="#1c1c1c" stroke-width="1.95" fill="#fff" />
<path d="M657.5,1132.0 L659.0,1111.5" stroke="#1c1c1c" stroke-width="3.3" fill="none" />
<path d="M658.6,1124.2 L664.5,1127.4" stroke="#1c1c1c" stroke-width="2.4" fill="none" />
<path d="M661.3,1113.0 L661.1,1123.0" stroke="#555" stroke-width="1.35" fill="none" />
<path d="M658.7,1126.2 L663.7,1129.2 L658.4,1132.5" stroke="#1c1c1c" stroke-width="1.65" fill="none" />
<path d="M664.7,1131.0 Q664.7,1138.0 668.6,1140.6 L674.9,1144.2" stroke="#1c1c1c" stroke-width="1.88" fill="none" />
<circle cx="678.2" cy="1146.3" r="2.7" fill="#fff" stroke="#1c1c1c" stroke-width="1.3"/>
<path d="M675.8,1144.5 L677.4,1121.0 L683.8,1124.3 L684.0,1142.0" stroke="#1c1c1c" stroke-width="1.95" fill="#fff" />
<path d="M676.8,1143.0 L678.3,1122.5" stroke="#1c1c1c" stroke-width="3.3" fill="none" />
<path d="M677.9,1135.2 L683.8,1138.4" stroke="#1c1c1c" stroke-width="2.4" fill="none" />
<path d="M680.6,1124.0 L680.4,1134.0" stroke="#555" stroke-width="1.35" fill="none" />
<path d="M678.0,1137.2 L683.0,1140.2 L677.7,1143.5" stroke="#1c1c1c" stroke-width="1.65" fill="none" />
<path d="M684.0,1142.0 Q684.0,1149.0 687.9,1151.6 L694.2,1155.2" stroke="#1c1c1c" stroke-width="1.88" fill="none" />
<circle cx="697.4" cy="1157.4" r="2.7" fill="#fff" stroke="#1c1c1c" stroke-width="1.3"/>
<path d="M695.0,1155.6 L696.6,1132.1 L703.0,1135.4 L703.2,1153.1" stroke="#1c1c1c" stroke-width="1.95" fill="#fff" />
<path d="M696.0,1154.1 L697.5,1133.6" stroke="#1c1c1c" stroke-width="3.3" fill="none" />
<path d="M697.1,1146.3 L703.0,1149.5" stroke="#1c1c1c" stroke-width="2.4" fill="none" />
<path d="M699.8,1135.1 L699.6,1145.1" stroke="#555" stroke-width="1.35" fill="none" />
<path d="M697.2,1148.3 L702.2,1151.3 L696.9,1154.6" stroke="#1c1c1c" stroke-width="1.65" fill="none" />
<path d="M703.2,1153.1 Q703.2,1160.1 707.1,1162.7 L713.4,1166.3" stroke="#1c1c1c" stroke-width="1.88" fill="none" />
<circle cx="716.7" cy="1168.4" r="2.7" fill="#fff" stroke="#1c1c1c" stroke-width="1.3"/>
<path d="M714.3,1166.6 L715.9,1143.1 L722.3,1146.4 L722.5,1164.1" stroke="#1c1c1c" stroke-width="1.95" fill="#fff" />
<path d="M715.3,1165.1 L716.8,1144.6" stroke="#1c1c1c" stroke-width="3.3" fill="none" />
<path d="M716.4,1157.3 L722.3,1160.5" stroke="#1c1c1c" stroke-width="2.4" fill="none" />
<path d="M719.1,1146.1 L718.9,1156.1" stroke="#555" stroke-width="1.35" fill="none" />
<path d="M716.5,1159.3 L721.5,1162.3 L716.2,1165.6" stroke="#1c1c1c" stroke-width="1.65" fill="none" />
<path d="M722.5,1164.1 Q722.5,1171.1 726.4,1173.7 L732.7,1177.3" stroke="#1c1c1c" stroke-width="1.88" fill="none" />
<circle cx="735.9" cy="1179.5" r="2.7" fill="#fff" stroke="#1c1c1c" stroke-width="1.3"/>
<path d="M733.5,1177.7 L735.1,1154.2 L741.5,1157.5 L741.7,1175.2" stroke="#1c1c1c" stroke-width="1.95" fill="#fff" />
<path d="M734.5,1176.2 L736.0,1155.7" stroke="#1c1c1c" stroke-width="3.3" fill="none" />
<path d="M735.6,1168.4 L741.5,1171.6" stroke="#1c1c1c" stroke-width="2.4" fill="none" />
<path d="M738.3,1157.2 L738.1,1167.2" stroke="#555" stroke-width="1.35" fill="none" />
<path d="M735.7,1170.4 L740.7,1173.4 L735.4,1176.7" stroke="#1c1c1c" stroke-width="1.65" fill="none" />
<path d="M741.7,1175.2 Q741.7,1182.2 745.6,1184.8 L751.9,1188.4" stroke="#1c1c1c" stroke-width="1.88" fill="none" />
<circle cx="755.1" cy="1190.6" r="2.7" fill="#fff" stroke="#1c1c1c" stroke-width="1.3"/>
<path d="M752.7,1188.8 L754.3,1165.3 L760.7,1168.6 L760.9,1186.3" stroke="#1c1c1c" stroke-width="1.95" fill="#fff" />
<path d="M753.7,1187.3 L755.2,1166.8" stroke="#1c1c1c" stroke-width="3.3" fill="none" />
<path d="M754.8,1179.5 L760.7,1182.7" stroke="#1c1c1c" stroke-width="2.4" fill="none" />
<path d="M757.5,1168.3 L757.3,1178.3" stroke="#555" stroke-width="1.35" fill="none" />
<path d="M754.9,1181.5 L759.9,1184.5 L754.6,1187.8" stroke="#1c1c1c" stroke-width="1.65" fill="none" />
<path d="M760.9,1186.3 Q760.9,1193.3 764.8,1195.9 L771.1,1199.5" stroke="#1c1c1c" stroke-width="1.88" fill="none" />
<circle cx="774.4" cy="1201.6" r="2.7" fill="#fff" stroke="#1c1c1c" stroke-width="1.3"/>
<path d="M772.0,1199.8 L773.6,1176.3 L780.0,1179.6 L780.2,1197.3" stroke="#1c1c1c" stroke-width="1.95" fill="#fff" />
<path d="M773.0,1198.3 L774.5,1177.8" stroke="#1c1c1c" stroke-width="3.3" fill="none" />
<path d="M774.1,1190.5 L780.0,1193.7" stroke="#1c1c1c" stroke-width="2.4" fill="none" />
<path d="M776.8,1179.3 L776.6,1189.3" stroke="#555" stroke-width="1.35" fill="none" />
<path d="M774.2,1192.5 L779.2,1195.5 L773.9,1198.8" stroke="#1c1c1c" stroke-width="1.65" fill="none" />
<path d="M780.2,1197.3 Q780.2,1204.3 784.1,1206.9 L790.4,1210.5" stroke="#1c1c1c" stroke-width="1.88" fill="none" />
<circle cx="793.6" cy="1212.7" r="2.7" fill="#fff" stroke="#1c1c1c" stroke-width="1.3"/>
<path d="M791.2,1210.9 L792.8,1187.4 L799.2,1190.7 L799.4,1208.4" stroke="#1c1c1c" stroke-width="1.95" fill="#fff" />
<path d="M792.2,1209.4 L793.7,1188.9" stroke="#1c1c1c" stroke-width="3.3" fill="none" />
<path d="M793.3,1201.6 L799.2,1204.8" stroke="#1c1c1c" stroke-width="2.4" fill="none" />
<path d="M796.0,1190.4 L795.8,1200.4" stroke="#555" stroke-width="1.35" fill="none" />
<path d="M793.4,1203.6 L798.4,1206.6 L793.1,1209.9" stroke="#1c1c1c" stroke-width="1.65" fill="none" />
<path d="M799.4,1208.4 Q799.4,1215.4 803.3,1218.0 L809.6,1221.6" stroke="#1c1c1c" stroke-width="1.88" fill="none" />
<circle cx="812.9" cy="1223.7" r="2.7" fill="#fff" stroke="#1c1c1c" stroke-width="1.3"/>
<path d="M810.5,1221.9 L812.1,1198.4 L818.5,1201.7 L818.7,1219.4" stroke="#1c1c1c" stroke-width="1.95" fill="#fff" />
<path d="M811.5,1220.4 L813.0,1199.9" stroke="#1c1c1c" stroke-width="3.3" fill="none" />
<path d="M812.6,1212.6 L818.5,1215.8" stroke="#1c1c1c" stroke-width="2.4" fill="none" />
<path d="M815.3,1201.4 L815.1,1211.4" stroke="#555" stroke-width="1.35" fill="none" />
<path d="M812.7,1214.6 L817.7,1217.6 L812.4,1220.9" stroke="#1c1c1c" stroke-width="1.65" fill="none" />
<path d="M818.7,1219.4 Q818.7,1225.9 822.6,1228.4 L821.5,1228.5" stroke="#1c1c1c" stroke-width="1.88" fill="none" />
</g>
</g>
</svg>
</body></html>
